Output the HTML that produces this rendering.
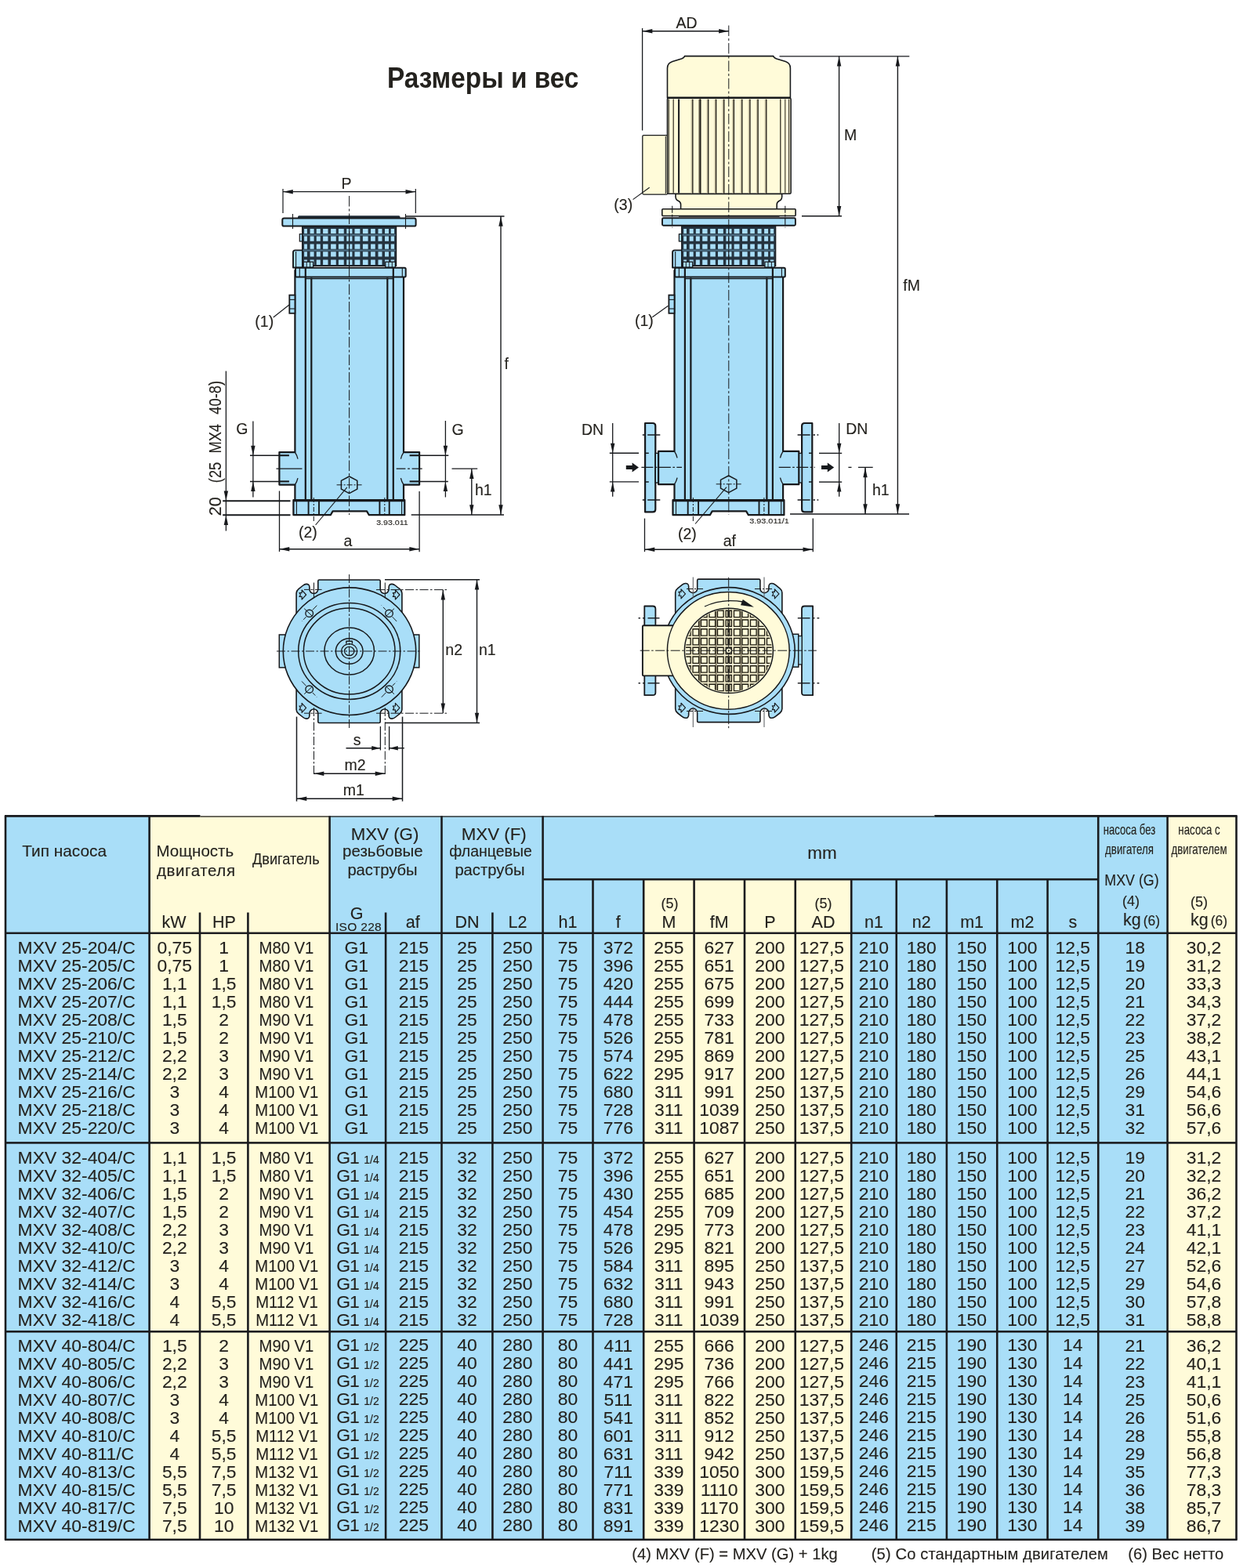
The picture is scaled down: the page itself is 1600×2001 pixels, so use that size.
<!DOCTYPE html>
<html lang="ru">
<head>
<meta charset="utf-8">
<title>Размеры и вес</title>
<style>
html,body{margin:0;padding:0;background:#fff;}
body{width:1600px;height:2001px;overflow:hidden;position:relative;font-family:"Liberation Sans",sans-serif;color:#24221e;}
.page{will-change:transform;position:absolute;left:0;top:0;width:1600px;height:2001px;overflow:hidden;background:#fff;}
h1.title{position:absolute;margin:0;left:494.2px;top:78.6px;font-size:36.6px;line-height:normal;font-weight:bold;white-space:nowrap;transform:scaleX(0.912);transform-origin:0 50%;}
.tbl{position:absolute;left:0;top:0;width:1600px;height:2001px;}
.bg{position:absolute;}
.bg.b{background:#a9def8;}
.bg.c{background:#fffbd9;}
.ln{position:absolute;background:#24221e;}
.hl{position:absolute;white-space:nowrap;line-height:normal;-webkit-text-stroke:0.12px #24221e;}
.hl small{font-size:17.5px;margin-left:3px;line-height:0;}
table.dt{-webkit-text-stroke:0.12px #24221e;position:absolute;left:7.0px;border-collapse:collapse;table-layout:fixed;width:1570.5px;font-size:22.9px;}
table.dt td{padding:0;height:23px;line-height:23px;text-align:center;white-space:nowrap;overflow:visible;}
table.dt td.type{text-align:left;padding-left:15.6px;}
table.dt td.mot span{display:inline-block;transform:scaleX(0.885);position:relative;left:-3px;}
table.dt td.AD{padding-right:4px;}
table.dt td.kg1{padding-left:6px;}
table.dt td.kg2{padding-left:5px;}
table.dt td.up{position:relative;top:-1px;}
table.dt td small{font-size:14px;line-height:0;margin-left:5.5px;}
table.dt td i{font-style:normal;margin-left:-1px;}
table.dt td.g{text-align:left;padding-left:8.6px;}
table.dt.g1 td.g{text-align:center;padding-left:0;padding-right:3px;}
.notes{-webkit-text-stroke:0.1px #24221e;position:absolute;margin:0;left:0;top:1971.5px;width:1600px;height:26px;font-size:20.2px;line-height:normal;white-space:nowrap;}
.notes span{position:absolute;top:0;}
svg.dr,svg.grid{position:absolute;left:0;top:0;}
svg.dr text{font-family:"Liberation Sans",sans-serif;fill:#24221e;stroke:#24221e;stroke-width:0.12px;}
</style>
</head>
<body>
<div class="page">
<h1 class="title">Размеры и вес</h1>
<svg class="dr" width="1600" height="1040" viewBox="0 0 1600 1040">
<g id="d1">
<rect x="380" y="275.2" width="130.5" height="3.8" rx="1.5" fill="#1e2a35"/>
<path d="M376.4 345 V577.1 H356.4 V618.6 H376.4 V638 H515 V618.6 H535.1 V577.1 H515 V345 Z" fill="#a9def8" stroke="#17191c" stroke-width="2.2" stroke-linejoin="round" />
<line x1="356.4" y1="581.2" x2="368.9" y2="581.2" stroke="#17191c" stroke-width="2.1"/>
<line x1="356.4" y1="614.4" x2="368.9" y2="614.4" stroke="#17191c" stroke-width="2.1"/>
<line x1="535.1" y1="581.2" x2="522.6" y2="581.2" stroke="#17191c" stroke-width="2.1"/>
<line x1="535.1" y1="614.4" x2="522.6" y2="614.4" stroke="#17191c" stroke-width="2.1"/>
<path d="M376.4 577.1 q2.6 4 3.6 8.5" fill="none" stroke="#17191c" stroke-width="1.3" stroke-linejoin="round" />
<path d="M376.4 618.6 q2.6 -4 3.6 -8.5" fill="none" stroke="#17191c" stroke-width="1.3" stroke-linejoin="round" />
<path d="M515 577.1 q-2.6 4 -3.6 8.5" fill="none" stroke="#17191c" stroke-width="1.3" stroke-linejoin="round" />
<path d="M515 618.6 q-2.6 -4 -3.6 -8.5" fill="none" stroke="#17191c" stroke-width="1.3" stroke-linejoin="round" />
<path d="M374 341.5 V322 q0 -2.6 2.6 -2.6 H386 V341.5 Z" fill="#a9def8" stroke="#17191c" stroke-width="1.9" stroke-linejoin="round" />
<line x1="377.6" y1="321" x2="377.6" y2="341" stroke="#17191c" stroke-width="1.1"/>
<rect x="385.6" y="288.7" width="120" height="50.7" fill="#25333f" stroke="#17191c" stroke-width="1.2"/>
<path d="M388.1 291.9H391.9V298.1H388.1ZM388.1 301.5H391.9V307.75H388.1ZM388.1 311.5H391.9V317.75H388.1ZM388.1 321.25H391.9V327.5H388.1ZM388.1 331.5H391.9V338.1H388.1ZM395.6 291.9H400.6V298.1H395.6ZM395.6 301.5H400.6V307.75H395.6ZM395.6 311.5H400.6V317.75H395.6ZM395.6 321.25H400.6V327.5H395.6ZM395.6 331.5H400.6V338.1H395.6ZM403.75 291.9H408.75V298.1H403.75ZM403.75 301.5H408.75V307.75H403.75ZM403.75 311.5H408.75V317.75H403.75ZM403.75 321.25H408.75V327.5H403.75ZM403.75 331.5H408.75V338.1H403.75ZM412.1 291.9H418.5V298.1H412.1ZM412.1 301.5H418.5V307.75H412.1ZM412.1 311.5H418.5V317.75H412.1ZM412.1 321.25H418.5V327.5H412.1ZM412.1 331.5H418.5V338.1H412.1ZM422.1 291.9H428.75V298.1H422.1ZM422.1 301.5H428.75V307.75H422.1ZM422.1 311.5H428.75V317.75H422.1ZM422.1 321.25H428.75V327.5H422.1ZM422.1 331.5H428.75V338.1H422.1ZM431.9 291.9H438.75V298.1H431.9ZM431.9 301.5H438.75V307.75H431.9ZM431.9 311.5H438.75V317.75H431.9ZM431.9 321.25H438.75V327.5H431.9ZM431.9 331.5H438.75V338.1H431.9ZM442.25 291.9H444.9V298.1H442.25ZM442.25 301.5H444.9V307.75H442.25ZM442.25 311.5H444.9V317.75H442.25ZM442.25 321.25H444.9V327.5H442.25ZM442.25 331.5H444.9V338.1H442.25ZM446.3 291.9H449.4V298.1H446.3ZM446.3 301.5H449.4V307.75H446.3ZM446.3 311.5H449.4V317.75H446.3ZM446.3 321.25H449.4V327.5H446.3ZM446.3 331.5H449.4V338.1H446.3ZM452.5 291.9H459.4V298.1H452.5ZM452.5 301.5H459.4V307.75H452.5ZM452.5 311.5H459.4V317.75H452.5ZM452.5 321.25H459.4V327.5H452.5ZM452.5 331.5H459.4V338.1H452.5ZM462.9 291.9H469.6V298.1H462.9ZM462.9 301.5H469.6V307.75H462.9ZM462.9 311.5H469.6V317.75H462.9ZM462.9 321.25H469.6V327.5H462.9ZM462.9 331.5H469.6V338.1H462.9ZM473.1 291.9H478.75V298.1H473.1ZM473.1 301.5H478.75V307.75H473.1ZM473.1 311.5H478.75V317.75H473.1ZM473.1 321.25H478.75V327.5H473.1ZM473.1 331.5H478.75V338.1H473.1ZM482.5 291.9H487.5V298.1H482.5ZM482.5 301.5H487.5V307.75H482.5ZM482.5 311.5H487.5V317.75H482.5ZM482.5 321.25H487.5V327.5H482.5ZM482.5 331.5H487.5V338.1H482.5ZM491 291.9H496V298.1H491ZM491 301.5H496V307.75H491ZM491 311.5H496V317.75H491ZM491 321.25H496V327.5H491ZM491 331.5H496V338.1H491ZM498.75 291.9H503.1V298.1H498.75ZM498.75 301.5H503.1V307.75H498.75ZM498.75 311.5H503.1V317.75H498.75ZM498.75 321.25H503.1V327.5H498.75ZM498.75 331.5H503.1V338.1H498.75Z" fill="#a9def8"/>
<line x1="386.6" y1="299.8" x2="504.6" y2="299.8" stroke="#4f7288" stroke-width="2.0"/>
<line x1="386.6" y1="319.5" x2="504.6" y2="319.5" stroke="#4f7288" stroke-width="2.0"/>
<rect x="382.3" y="298.7" width="3.3" height="9.3" fill="#a9def8" stroke="#17191c" stroke-width="1.2"/>
<rect x="387.2" y="334.2" width="12.4" height="7" fill="#a9def8" stroke="#17191c" stroke-width="1.3"/>
<line x1="391.2" y1="334.2" x2="391.2" y2="341.2" stroke="#17191c" stroke-width="1.0"/>
<line x1="395.6" y1="334.2" x2="395.6" y2="341.2" stroke="#17191c" stroke-width="1.0"/>
<rect x="491.8" y="334.2" width="12.6" height="7" fill="#a9def8" stroke="#17191c" stroke-width="1.3"/>
<line x1="495.9" y1="334.2" x2="495.9" y2="341.2" stroke="#17191c" stroke-width="1.0"/>
<line x1="500.3" y1="334.2" x2="500.3" y2="341.2" stroke="#17191c" stroke-width="1.0"/>
<rect x="377" y="341.8" width="140.7" height="11.7" rx="1.5" fill="#a9def8" stroke="#17191c" stroke-width="2.0"/>
<line x1="382.3" y1="342" x2="382.3" y2="353" stroke="#17191c" stroke-width="1.1"/>
<line x1="513.3" y1="342" x2="513.3" y2="353" stroke="#17191c" stroke-width="1.1"/>
<line x1="389.8" y1="341.5" x2="389.8" y2="638" stroke="#17191c" stroke-width="2.2"/>
<line x1="397.3" y1="354.5" x2="397.3" y2="638" stroke="#17191c" stroke-width="2.2"/>
<line x1="494.3" y1="354.5" x2="494.3" y2="638" stroke="#17191c" stroke-width="2.2"/>
<line x1="501.8" y1="341.5" x2="501.8" y2="638" stroke="#17191c" stroke-width="2.2"/>
<line x1="389.4" y1="355.6" x2="502" y2="355.6" stroke="#17191c" stroke-width="1.2"/>
<rect x="369.3" y="376.6" width="7.1" height="23.2" fill="#a9def8" stroke="#17191c" stroke-width="1.8"/>
<line x1="369" y1="382.4" x2="376.4" y2="382.4" stroke="#17191c" stroke-width="1.1"/>
<line x1="369" y1="394" x2="376.4" y2="394" stroke="#17191c" stroke-width="1.1"/>
<path d="M374.4 638.2 H516.3 V657.2 H470.8 L468 652.4 H424.6 L421.8 657.2 H374.4 Z" fill="#a9def8" stroke="#17191c" stroke-width="2.2" stroke-linejoin="round" />
<line x1="374.4" y1="639.6" x2="516.3" y2="639.6" stroke="#17191c" stroke-width="1.4"/>
<line x1="378.4" y1="639" x2="378.4" y2="657" stroke="#17191c" stroke-width="1.1"/>
<line x1="393.6" y1="639" x2="393.6" y2="657" stroke="#17191c" stroke-width="1.9"/>
<line x1="407" y1="639" x2="407" y2="657" stroke="#17191c" stroke-width="1.9"/>
<line x1="484.4" y1="639" x2="484.4" y2="657" stroke="#17191c" stroke-width="1.9"/>
<line x1="496.7" y1="639" x2="496.7" y2="657" stroke="#17191c" stroke-width="1.9"/>
<line x1="512.6" y1="639" x2="512.6" y2="657" stroke="#17191c" stroke-width="1.1"/>
<polygon points="445.6,608 455.79,613.4 455.79,624.2 445.6,629.6 435.41,624.2 435.41,613.4" fill="#a9def8" stroke="#17191c" stroke-width="1.5" stroke-linejoin="round"/>
<line x1="429.6" y1="618.8" x2="461.6" y2="618.8" stroke="#17191c" stroke-width="1.0" stroke-dasharray="7 2 2 2"/>
<line x1="400.3" y1="635" x2="400.3" y2="665" stroke="#17191c" stroke-width="1.0" stroke-dasharray="6 2 2 2"/>
<line x1="490.8" y1="635" x2="490.8" y2="659" stroke="#17191c" stroke-width="1.0" stroke-dasharray="6 2 2 2"/>
<rect x="360.3" y="278.6" width="170.3" height="10" rx="2.2" fill="#a9def8" stroke="#17191c" stroke-width="2.0"/>
<line x1="445.6" y1="250" x2="445.6" y2="657" stroke="#17191c" stroke-width="1.0" stroke-dasharray="13.5 3 3 3"/>
<line x1="361" y1="241" x2="361" y2="272" stroke="#17191c" stroke-width="1.2"/>
<line x1="530.3" y1="241" x2="530.3" y2="272" stroke="#17191c" stroke-width="1.2"/>
<line x1="361" y1="244.7" x2="530.3" y2="244.7" stroke="#17191c" stroke-width="1.3"/>
<polygon points="361.3,244.7 373.8,242 373.8,247.4" fill="#17191c"/>
<polygon points="530,244.7 517.5,242 517.5,247.4" fill="#17191c"/>
<text x="442" y="241" font-size="19.5" text-anchor="middle">P</text>
<line x1="373.5" y1="273" x2="373.5" y2="292" stroke="#17191c" stroke-width="1.1"/>
<line x1="517.5" y1="273" x2="517.5" y2="292" stroke="#17191c" stroke-width="1.1"/>
<line x1="517.5" y1="276" x2="643.5" y2="276" stroke="#17191c" stroke-width="1.3"/>
<line x1="639" y1="276" x2="639" y2="657" stroke="#17191c" stroke-width="1.4"/>
<polygon points="639,276.3 636.3,288.8 641.7,288.8" fill="#17191c"/>
<polygon points="639,656.7 636.3,644.2 641.7,644.2" fill="#17191c"/>
<text x="643.5" y="471.3" font-size="19.5" text-anchor="start">f</text>
<line x1="524.7" y1="657" x2="643" y2="657" stroke="#17191c" stroke-width="1.5"/>
<line x1="576.5" y1="598.1" x2="609.2" y2="598.1" stroke="#17191c" stroke-width="1.3"/>
<line x1="601.8" y1="598.1" x2="601.8" y2="657" stroke="#17191c" stroke-width="1.4"/>
<polygon points="601.8,598.4 599.1,610.9 604.5,610.9" fill="#17191c"/>
<polygon points="601.8,656.7 599.1,644.2 604.5,644.2" fill="#17191c"/>
<text x="606" y="632.2" font-size="19.5" text-anchor="start">h1</text>
<line x1="568.4" y1="537" x2="568.4" y2="634.5" stroke="#17191c" stroke-width="1.3"/>
<polygon points="568.4,581.2 565.7,568.7 571.1,568.7" fill="#17191c"/>
<polygon points="568.4,614.5 565.7,627 571.1,627" fill="#17191c"/>
<line x1="535" y1="581.2" x2="572.3" y2="581.2" stroke="#17191c" stroke-width="1.4"/>
<line x1="535" y1="614.5" x2="571.8" y2="614.5" stroke="#17191c" stroke-width="1.4"/>
<text x="576.5" y="554.6" font-size="19.5" text-anchor="start">G</text>
<line x1="505.7" y1="598.1" x2="538.7" y2="598.1" stroke="#17191c" stroke-width="1.2" stroke-dasharray="11.7 2.7 2.8 2.7 13.1"/>
<line x1="322.9" y1="537.5" x2="322.9" y2="634.6" stroke="#17191c" stroke-width="1.3"/>
<polygon points="322.9,581.2 320.2,568.7 325.6,568.7" fill="#17191c"/>
<polygon points="322.9,614.5 320.2,627 325.6,627" fill="#17191c"/>
<line x1="319" y1="581.2" x2="356.5" y2="581.2" stroke="#17191c" stroke-width="1.4"/>
<line x1="319" y1="614.5" x2="356.5" y2="614.5" stroke="#17191c" stroke-width="1.4"/>
<text x="301.3" y="554.2" font-size="19.5" text-anchor="start">G</text>
<line x1="352.5" y1="598.1" x2="385.5" y2="598.1" stroke="#17191c" stroke-width="1.2"/>
<line x1="288.4" y1="473.5" x2="288.4" y2="677.5" stroke="#17191c" stroke-width="1.3"/>
<polygon points="288.4,639 285.7,626.5 291.1,626.5" fill="#17191c"/>
<polygon points="288.4,657.4 285.7,669.9 291.1,669.9" fill="#17191c"/>
<line x1="284.2" y1="639.2" x2="370.5" y2="639.2" stroke="#17191c" stroke-width="1.9"/>
<line x1="284.2" y1="657.3" x2="370.5" y2="657.3" stroke="#17191c" stroke-width="1.9"/>
<text transform="translate(282 658.2) rotate(-90)" font-size="21.5">20</text>
<text transform="translate(282 616.2) rotate(-90) scale(0.85 1)" font-size="21.5" xml:space="preserve"><tspan x="0">(25 </tspan><tspan x="44.3">MX4 </tspan><tspan x="103">40-8)</tspan></text>
<line x1="356.5" y1="626.5" x2="356.5" y2="704" stroke="#17191c" stroke-width="1.3"/>
<line x1="535.1" y1="627" x2="535.1" y2="704.2" stroke="#17191c" stroke-width="1.3"/>
<line x1="356.5" y1="700.8" x2="535.1" y2="700.8" stroke="#17191c" stroke-width="1.4"/>
<polygon points="356.8,700.8 369.3,698.1 369.3,703.5" fill="#17191c"/>
<polygon points="534.8,700.8 522.3,698.1 522.3,703.5" fill="#17191c"/>
<text x="444" y="696.8" font-size="19.5" text-anchor="middle">a</text>
<text x="325.3" y="417" font-size="19.5" text-anchor="start">(1)</text>
<line x1="348.7" y1="405" x2="369" y2="389" stroke="#17191c" stroke-width="1.1"/>
<text x="381" y="686.2" font-size="19.5" text-anchor="start">(2)</text>
<line x1="442.8" y1="621.9" x2="402.6" y2="670" stroke="#17191c" stroke-width="1.1"/>
<text x="480.2" y="670" font-size="9.6" text-anchor="start" fill="#3a3a3a" textLength="40.6" lengthAdjust="spacingAndGlyphs">3.93.011</text>
</g>
<g id="d2">
<path d="M823.1 540 H832.8 Q836.3 540 836.3 543.5 V649.9 Q836.3 653.4 832.8 653.4 H823.1 Z" fill="#a9def8" stroke="#17191c" stroke-width="2.2" stroke-linejoin="round" />
<rect x="836.3" y="578.4" width="3.8" height="37.6" fill="#a9def8" stroke="#17191c" stroke-width="1.4"/>
<path d="M1036.3 540 H1026.6 Q1023.1 540 1023.1 543.5 V649.9 Q1023.1 653.4 1026.6 653.4 H1036.3 Z" fill="#a9def8" stroke="#17191c" stroke-width="2.2" stroke-linejoin="round" />
<rect x="1019.3" y="578.4" width="3.8" height="37.6" fill="#a9def8" stroke="#17191c" stroke-width="1.4"/>
<path d="M860.5 345 V575.8 H840.1 V618.2 H860.5 V638 H999.1 V618.2 H1019.3 V575.8 H999.1 V345 Z" fill="#a9def8" stroke="#17191c" stroke-width="2.2" stroke-linejoin="round" />
<path d="M860.5 575.8 q2.6 4 3.6 8.5" fill="none" stroke="#17191c" stroke-width="1.3" stroke-linejoin="round" />
<path d="M860.5 618.2 q2.6 -4 3.6 -8.5" fill="none" stroke="#17191c" stroke-width="1.3" stroke-linejoin="round" />
<path d="M999.1 575.8 q-2.6 4 -3.6 8.5" fill="none" stroke="#17191c" stroke-width="1.3" stroke-linejoin="round" />
<path d="M999.1 618.2 q-2.6 -4 -3.6 -8.5" fill="none" stroke="#17191c" stroke-width="1.3" stroke-linejoin="round" />
<path d="M858.1 341.5 V322 q0 -2.6 2.6 -2.6 H870.1 V341.5 Z" fill="#a9def8" stroke="#17191c" stroke-width="1.9" stroke-linejoin="round" />
<line x1="861.7" y1="321" x2="861.7" y2="341" stroke="#17191c" stroke-width="1.1"/>
<rect x="869.7" y="288.7" width="120" height="50.7" fill="#25333f" stroke="#17191c" stroke-width="1.2"/>
<path d="M872.2 291.9H876V298.1H872.2ZM872.2 301.5H876V307.75H872.2ZM872.2 311.5H876V317.75H872.2ZM872.2 321.25H876V327.5H872.2ZM872.2 331.5H876V338.1H872.2ZM879.7 291.9H884.7V298.1H879.7ZM879.7 301.5H884.7V307.75H879.7ZM879.7 311.5H884.7V317.75H879.7ZM879.7 321.25H884.7V327.5H879.7ZM879.7 331.5H884.7V338.1H879.7ZM887.85 291.9H892.85V298.1H887.85ZM887.85 301.5H892.85V307.75H887.85ZM887.85 311.5H892.85V317.75H887.85ZM887.85 321.25H892.85V327.5H887.85ZM887.85 331.5H892.85V338.1H887.85ZM896.2 291.9H902.6V298.1H896.2ZM896.2 301.5H902.6V307.75H896.2ZM896.2 311.5H902.6V317.75H896.2ZM896.2 321.25H902.6V327.5H896.2ZM896.2 331.5H902.6V338.1H896.2ZM906.2 291.9H912.85V298.1H906.2ZM906.2 301.5H912.85V307.75H906.2ZM906.2 311.5H912.85V317.75H906.2ZM906.2 321.25H912.85V327.5H906.2ZM906.2 331.5H912.85V338.1H906.2ZM916 291.9H922.85V298.1H916ZM916 301.5H922.85V307.75H916ZM916 311.5H922.85V317.75H916ZM916 321.25H922.85V327.5H916ZM916 331.5H922.85V338.1H916ZM926.35 291.9H929V298.1H926.35ZM926.35 301.5H929V307.75H926.35ZM926.35 311.5H929V317.75H926.35ZM926.35 321.25H929V327.5H926.35ZM926.35 331.5H929V338.1H926.35ZM930.4 291.9H933.5V298.1H930.4ZM930.4 301.5H933.5V307.75H930.4ZM930.4 311.5H933.5V317.75H930.4ZM930.4 321.25H933.5V327.5H930.4ZM930.4 331.5H933.5V338.1H930.4ZM936.6 291.9H943.5V298.1H936.6ZM936.6 301.5H943.5V307.75H936.6ZM936.6 311.5H943.5V317.75H936.6ZM936.6 321.25H943.5V327.5H936.6ZM936.6 331.5H943.5V338.1H936.6ZM947 291.9H953.7V298.1H947ZM947 301.5H953.7V307.75H947ZM947 311.5H953.7V317.75H947ZM947 321.25H953.7V327.5H947ZM947 331.5H953.7V338.1H947ZM957.2 291.9H962.85V298.1H957.2ZM957.2 301.5H962.85V307.75H957.2ZM957.2 311.5H962.85V317.75H957.2ZM957.2 321.25H962.85V327.5H957.2ZM957.2 331.5H962.85V338.1H957.2ZM966.6 291.9H971.6V298.1H966.6ZM966.6 301.5H971.6V307.75H966.6ZM966.6 311.5H971.6V317.75H966.6ZM966.6 321.25H971.6V327.5H966.6ZM966.6 331.5H971.6V338.1H966.6ZM975.1 291.9H980.1V298.1H975.1ZM975.1 301.5H980.1V307.75H975.1ZM975.1 311.5H980.1V317.75H975.1ZM975.1 321.25H980.1V327.5H975.1ZM975.1 331.5H980.1V338.1H975.1ZM982.85 291.9H987.2V298.1H982.85ZM982.85 301.5H987.2V307.75H982.85ZM982.85 311.5H987.2V317.75H982.85ZM982.85 321.25H987.2V327.5H982.85ZM982.85 331.5H987.2V338.1H982.85Z" fill="#a9def8"/>
<line x1="870.7" y1="299.8" x2="988.7" y2="299.8" stroke="#4f7288" stroke-width="2.0"/>
<line x1="870.7" y1="319.5" x2="988.7" y2="319.5" stroke="#4f7288" stroke-width="2.0"/>
<rect x="866.4" y="298.7" width="3.3" height="9.3" fill="#a9def8" stroke="#17191c" stroke-width="1.2"/>
<rect x="871.3" y="334.2" width="12.4" height="7" fill="#a9def8" stroke="#17191c" stroke-width="1.3"/>
<line x1="875.3" y1="334.2" x2="875.3" y2="341.2" stroke="#17191c" stroke-width="1.0"/>
<line x1="879.7" y1="334.2" x2="879.7" y2="341.2" stroke="#17191c" stroke-width="1.0"/>
<rect x="975.9" y="334.2" width="12.6" height="7" fill="#a9def8" stroke="#17191c" stroke-width="1.3"/>
<line x1="980" y1="334.2" x2="980" y2="341.2" stroke="#17191c" stroke-width="1.0"/>
<line x1="984.4" y1="334.2" x2="984.4" y2="341.2" stroke="#17191c" stroke-width="1.0"/>
<rect x="861.1" y="341.8" width="140.7" height="11.7" rx="1.5" fill="#a9def8" stroke="#17191c" stroke-width="2.0"/>
<line x1="866.4" y1="342" x2="866.4" y2="353" stroke="#17191c" stroke-width="1.1"/>
<line x1="997.4" y1="342" x2="997.4" y2="353" stroke="#17191c" stroke-width="1.1"/>
<line x1="873.9" y1="341.5" x2="873.9" y2="638" stroke="#17191c" stroke-width="2.2"/>
<line x1="881.4" y1="354.5" x2="881.4" y2="638" stroke="#17191c" stroke-width="2.2"/>
<line x1="978.4" y1="354.5" x2="978.4" y2="638" stroke="#17191c" stroke-width="2.2"/>
<line x1="985.9" y1="341.5" x2="985.9" y2="638" stroke="#17191c" stroke-width="2.2"/>
<line x1="873.5" y1="355.6" x2="986.1" y2="355.6" stroke="#17191c" stroke-width="1.2"/>
<rect x="853.4" y="376.6" width="7.1" height="23.2" fill="#a9def8" stroke="#17191c" stroke-width="1.8"/>
<line x1="853.1" y1="382.4" x2="860.5" y2="382.4" stroke="#17191c" stroke-width="1.1"/>
<line x1="853.1" y1="394" x2="860.5" y2="394" stroke="#17191c" stroke-width="1.1"/>
<path d="M858.5 638.2 H1000.4 V657.2 H954.9 L952.1 652.4 H908.7 L905.9 657.2 H858.5 Z" fill="#a9def8" stroke="#17191c" stroke-width="2.2" stroke-linejoin="round" />
<line x1="858.5" y1="639.6" x2="1000.4" y2="639.6" stroke="#17191c" stroke-width="1.4"/>
<line x1="862.5" y1="639" x2="862.5" y2="657" stroke="#17191c" stroke-width="1.1"/>
<line x1="877.7" y1="639" x2="877.7" y2="657" stroke="#17191c" stroke-width="1.9"/>
<line x1="891.1" y1="639" x2="891.1" y2="657" stroke="#17191c" stroke-width="1.9"/>
<line x1="968.5" y1="639" x2="968.5" y2="657" stroke="#17191c" stroke-width="1.9"/>
<line x1="980.8" y1="639" x2="980.8" y2="657" stroke="#17191c" stroke-width="1.9"/>
<line x1="996.7" y1="639" x2="996.7" y2="657" stroke="#17191c" stroke-width="1.1"/>
<polygon points="929.7,607 939.89,612.4 939.89,623.2 929.7,628.6 919.51,623.2 919.51,612.4" fill="#a9def8" stroke="#17191c" stroke-width="1.5" stroke-linejoin="round"/>
<line x1="913.7" y1="617.8" x2="945.7" y2="617.8" stroke="#17191c" stroke-width="1.0" stroke-dasharray="7 2 2 2"/>
<line x1="884.4" y1="635" x2="884.4" y2="665" stroke="#17191c" stroke-width="1.0" stroke-dasharray="6 2 2 2"/>
<line x1="974.9" y1="635" x2="974.9" y2="659" stroke="#17191c" stroke-width="1.0" stroke-dasharray="6 2 2 2"/>
<rect x="845" y="278.3" width="169.9" height="9.4" rx="1.5" fill="#a9def8" stroke="#17191c" stroke-width="1.9"/>
<rect x="866" y="275.6" width="128.5" height="2.6" fill="#555"/>
<path d="M862 247.4 H997.7 V251 Q997.7 255 994 256.5 Q991.2 258 991.2 261 V266.8 H868.6 V261 Q868.6 258 865.8 256.5 Q862 255 862 251 Z" fill="#fffbd9" stroke="#17191c" stroke-width="1.6" stroke-linejoin="round" />
<rect x="844.8" y="266.8" width="170.3" height="8.7" rx="1" fill="#fffbd9" stroke="#17191c" stroke-width="1.6"/>
<rect x="819.8" y="172.6" width="32.2" height="75.5" rx="1.5" fill="#fffbd9" stroke="#17191c" stroke-width="1.3"/>
<line x1="849.3" y1="174" x2="849.3" y2="247" stroke="#17191c" stroke-width="1.0"/>
<rect x="851.5" y="125.2" width="157.6" height="122.1" rx="1.5" fill="#fffbd9" stroke="#17191c" stroke-width="1.6"/>
<line x1="853.3" y1="126.5" x2="853.3" y2="246.5" stroke="#2f2c22" stroke-width="1.2"/>
<line x1="859.2" y1="126.5" x2="859.2" y2="246.5" stroke="#2f2c22" stroke-width="1.2"/>
<line x1="866.1" y1="126.5" x2="866.1" y2="246.5" stroke="#17191c" stroke-width="2.0"/>
<line x1="995.8" y1="126.5" x2="995.8" y2="246.5" stroke="#2f2c22" stroke-width="1.3"/>
<line x1="1001.8" y1="126.5" x2="1001.8" y2="246.5" stroke="#2f2c22" stroke-width="1.1"/>
<line x1="1006.6" y1="126.5" x2="1006.6" y2="246.5" stroke="#2f2c22" stroke-width="1.1"/>
<rect x="881.6" y="126.6" width="2.2" height="120" rx="1" fill="#c9c2a3"/>
<line x1="883.85" y1="127.2" x2="883.85" y2="246.2" stroke="#24211a" stroke-width="1.35" stroke-linecap="round"/>
<rect x="891.4" y="126.6" width="2.2" height="120" rx="1" fill="#6f6957"/>
<line x1="893.65" y1="127.2" x2="893.65" y2="246.2" stroke="#24211a" stroke-width="1.8" stroke-linecap="round"/>
<rect x="901.5" y="126.6" width="2.2" height="120" rx="1" fill="#c9c2a3"/>
<line x1="903.75" y1="127.2" x2="903.75" y2="246.2" stroke="#24211a" stroke-width="1.35" stroke-linecap="round"/>
<rect x="911.4" y="126.6" width="2.2" height="120" rx="1" fill="#c9c2a3"/>
<line x1="913.65" y1="127.2" x2="913.65" y2="246.2" stroke="#24211a" stroke-width="1.35" stroke-linecap="round"/>
<rect x="921.55" y="126.6" width="2.2" height="120" rx="1" fill="#c9c2a3"/>
<line x1="923.8" y1="127.2" x2="923.8" y2="246.2" stroke="#24211a" stroke-width="1.35" stroke-linecap="round"/>
<rect x="934.15" y="126.6" width="2.2" height="120" rx="1" fill="#c9c2a3"/>
<line x1="936.4" y1="127.2" x2="936.4" y2="246.2" stroke="#24211a" stroke-width="1.35" stroke-linecap="round"/>
<rect x="944.6" y="126.6" width="2.2" height="120" rx="1" fill="#c9c2a3"/>
<line x1="946.85" y1="127.2" x2="946.85" y2="246.2" stroke="#24211a" stroke-width="1.35" stroke-linecap="round"/>
<rect x="954.7" y="126.6" width="2.2" height="120" rx="1" fill="#c9c2a3"/>
<line x1="956.95" y1="127.2" x2="956.95" y2="246.2" stroke="#24211a" stroke-width="1.35" stroke-linecap="round"/>
<rect x="964.9" y="126.6" width="2.2" height="120" rx="1" fill="#c9c2a3"/>
<line x1="967.15" y1="127.2" x2="967.15" y2="246.2" stroke="#24211a" stroke-width="1.35" stroke-linecap="round"/>
<rect x="975.55" y="126.6" width="2.2" height="120" rx="1" fill="#c9c2a3"/>
<line x1="977.8" y1="127.2" x2="977.8" y2="246.2" stroke="#24211a" stroke-width="1.35" stroke-linecap="round"/>
<path d="M851.5 125 V87 Q851.5 80.5 858 78.5 L869.5 75 Q873 73.8 873.5 71.6 H986.8 Q987.3 73.8 990.8 75 L1002.3 78.5 Q1008.4 80.5 1008.4 87 V125 Z" fill="#fffbd9" stroke="#17191c" stroke-width="1.6" stroke-linejoin="round" />
<line x1="851.5" y1="124.7" x2="1009" y2="124.7" stroke="#17191c" stroke-width="2.4"/>
<line x1="857.7" y1="262.7" x2="857.7" y2="290.4" stroke="#17191c" stroke-width="1.1" stroke-dasharray="9 2 3 2"/>
<line x1="1001.8" y1="262.7" x2="1001.8" y2="290.4" stroke="#17191c" stroke-width="1.1" stroke-dasharray="9 2 3 2"/>
<line x1="929.8" y1="32.5" x2="929.8" y2="657" stroke="#17191c" stroke-width="1.0" stroke-dasharray="13.5 3 3 3"/>
<line x1="819.6" y1="36" x2="819.6" y2="166.5" stroke="#17191c" stroke-width="1.3"/>
<line x1="819.6" y1="39.7" x2="930" y2="39.7" stroke="#17191c" stroke-width="1.4"/>
<polygon points="819.9,39.7 832.4,37 832.4,42.4" fill="#17191c"/>
<polygon points="929.6,39.7 917.1,37 917.1,42.4" fill="#17191c"/>
<text x="862.5" y="36.2" font-size="19.5" text-anchor="start">AD</text>
<line x1="994.5" y1="71.8" x2="1160.3" y2="71.8" stroke="#17191c" stroke-width="1.3"/>
<line x1="1023" y1="275.7" x2="1074" y2="275.7" stroke="#17191c" stroke-width="1.4"/>
<line x1="1070.6" y1="71.8" x2="1070.6" y2="275.7" stroke="#17191c" stroke-width="1.4"/>
<polygon points="1070.6,72.1 1067.9,84.6 1073.3,84.6" fill="#17191c"/>
<polygon points="1070.6,275.4 1067.9,262.9 1073.3,262.9" fill="#17191c"/>
<text x="1077" y="178.7" font-size="19.5" text-anchor="start">M</text>
<line x1="1145.4" y1="71.8" x2="1145.4" y2="656" stroke="#17191c" stroke-width="1.4"/>
<polygon points="1145.4,72.1 1142.7,84.6 1148.1,84.6" fill="#17191c"/>
<polygon points="1145.4,655.8 1142.7,643.3 1148.1,643.3" fill="#17191c"/>
<text x="1152.3" y="371.3" font-size="19.5" text-anchor="start">fM</text>
<line x1="1008" y1="656.1" x2="1160" y2="656.1" stroke="#17191c" stroke-width="1.5"/>
<line x1="1082.4" y1="596.4" x2="1086.5" y2="596.4" stroke="#17191c" stroke-width="1.3"/>
<line x1="1095" y1="596.4" x2="1113.7" y2="596.4" stroke="#17191c" stroke-width="1.3"/>
<line x1="1104" y1="596.4" x2="1104" y2="656" stroke="#17191c" stroke-width="1.5"/>
<polygon points="1104,596.7 1101.3,609.2 1106.7,609.2" fill="#17191c"/>
<polygon points="1104,655.8 1101.3,643.3 1106.7,643.3" fill="#17191c"/>
<text x="1113" y="631.6" font-size="19.5" text-anchor="start">h1</text>
<line x1="1070.7" y1="540" x2="1070.7" y2="633.8" stroke="#17191c" stroke-width="1.3"/>
<polygon points="1070.7,578.3 1068,565.8 1073.4,565.8" fill="#17191c"/>
<polygon points="1070.7,615.1 1068,627.6 1073.4,627.6" fill="#17191c"/>
<line x1="1045" y1="578.4" x2="1074.2" y2="578.4" stroke="#17191c" stroke-width="1.4"/>
<line x1="1045" y1="615.1" x2="1074.2" y2="615.1" stroke="#17191c" stroke-width="1.4"/>
<text x="1079.2" y="554.2" font-size="19.5" text-anchor="start">DN</text>
<line x1="781.7" y1="540" x2="781.7" y2="633.8" stroke="#17191c" stroke-width="1.3"/>
<polygon points="781.7,578.2 779,565.7 784.4,565.7" fill="#17191c"/>
<polygon points="781.7,614.9 779,627.4 784.4,627.4" fill="#17191c"/>
<line x1="777.8" y1="578.2" x2="815" y2="578.2" stroke="#17191c" stroke-width="1.4"/>
<line x1="777.8" y1="614.9" x2="815" y2="614.9" stroke="#17191c" stroke-width="1.4"/>
<text x="742" y="555" font-size="19.5" text-anchor="start">DN</text>
<path d="M798.8 594 H806.6 V590.4 L815 596.5 L806.6 602.6 V599 H798.8 Z" fill="#17191c"/>
<path d="M1048 594 H1055.8 V590.4 L1064.2 596.5 L1055.8 602.6 V599 H1048 Z" fill="#17191c"/>
<line x1="819.8" y1="555" x2="822.3" y2="555" stroke="#17191c" stroke-width="1.5"/>
<line x1="826.2" y1="555" x2="842.3" y2="555" stroke="#17191c" stroke-width="1.5"/>
<line x1="1017.6" y1="555" x2="1033.6" y2="555" stroke="#17191c" stroke-width="1.5"/>
<line x1="1037.5" y1="555" x2="1040" y2="555" stroke="#17191c" stroke-width="1.5"/>
<line x1="1042.5" y1="555" x2="1044.3" y2="555" stroke="#17191c" stroke-width="1.5"/>
<line x1="819.8" y1="638" x2="822.3" y2="638" stroke="#17191c" stroke-width="1.5"/>
<line x1="826.2" y1="638" x2="842.3" y2="638" stroke="#17191c" stroke-width="1.5"/>
<line x1="1017.6" y1="638" x2="1033.6" y2="638" stroke="#17191c" stroke-width="1.5"/>
<line x1="1037.5" y1="638" x2="1040" y2="638" stroke="#17191c" stroke-width="1.5"/>
<line x1="1042.5" y1="638" x2="1044.3" y2="638" stroke="#17191c" stroke-width="1.5"/>
<line x1="823.8" y1="578.3" x2="827.8" y2="578.3" stroke="#17191c" stroke-width="1.5"/>
<line x1="1032" y1="578.3" x2="1036" y2="578.3" stroke="#17191c" stroke-width="1.5"/>
<line x1="823.8" y1="615" x2="827.8" y2="615" stroke="#17191c" stroke-width="1.5"/>
<line x1="1032" y1="615" x2="1036" y2="615" stroke="#17191c" stroke-width="1.5"/>
<line x1="818.4" y1="596.4" x2="870" y2="596.4" stroke="#17191c" stroke-width="1.1" stroke-dasharray="15 2.5 2.5 2.5"/>
<line x1="993.7" y1="596.4" x2="1039.7" y2="596.4" stroke="#17191c" stroke-width="1.1" stroke-dasharray="15 2.5 2.5 2.5"/>
<line x1="822.5" y1="661.6" x2="822.5" y2="704.2" stroke="#17191c" stroke-width="1.3"/>
<line x1="1037.3" y1="661.6" x2="1037.3" y2="704.2" stroke="#17191c" stroke-width="1.3"/>
<line x1="822.5" y1="701.2" x2="1037.3" y2="701.2" stroke="#17191c" stroke-width="1.4"/>
<polygon points="822.8,701.2 835.3,698.5 835.3,703.9" fill="#17191c"/>
<polygon points="1037,701.2 1024.5,698.5 1024.5,703.9" fill="#17191c"/>
<text x="930.8" y="696.7" font-size="19.5" text-anchor="middle">af</text>
<text x="810" y="416" font-size="19.5" text-anchor="start">(1)</text>
<line x1="832.3" y1="404.7" x2="852.5" y2="390.2" stroke="#17191c" stroke-width="1.1"/>
<text x="865" y="688.4" font-size="19.5" text-anchor="start">(2)</text>
<line x1="927" y1="621.7" x2="887.1" y2="668.5" stroke="#17191c" stroke-width="1.1"/>
<text x="783.3" y="267.6" font-size="19.5" text-anchor="start">(3)</text>
<line x1="807.6" y1="254.6" x2="828.7" y2="239.2" stroke="#17191c" stroke-width="1.1"/>
<text x="956.2" y="668.2" font-size="9.6" text-anchor="start" fill="#3a3a3a" textLength="50.6" lengthAdjust="spacingAndGlyphs">3.93.011/1</text>
</g>
<g id="d3">
<rect x="356.3" y="810" width="7.7" height="41.9" fill="#a9def8" stroke="#17191c" stroke-width="1.5"/>
<rect x="527" y="810" width="7.8" height="41.9" fill="#a9def8" stroke="#17191c" stroke-width="1.5"/>
<path transform="translate(445.5 831.25) scale(1 1)" d="M0 -91.25 H-38.2 Q-39.7 -91.25 -39.7 -89.75 V-79.2 A5.45 5.45 0 0 1 -50.6 -79.2 V-81.7 C-50.6 -85.2 -52.5 -86 -54.7 -85.9 C-56.5 -85.8 -57.5 -85.2 -59 -84 L-64.5 -79.6 C-66.5 -78 -67.4 -76.7 -67.4 -74.2 V0 H0 Z" fill="#a9def8"/>
<path transform="translate(445.5 831.25) scale(1 -1)" d="M0 -91.25 H-38.2 Q-39.7 -91.25 -39.7 -89.75 V-79.2 A5.45 5.45 0 0 1 -50.6 -79.2 V-81.7 C-50.6 -85.2 -52.5 -86 -54.7 -85.9 C-56.5 -85.8 -57.5 -85.2 -59 -84 L-64.5 -79.6 C-66.5 -78 -67.4 -76.7 -67.4 -74.2 V0 H0 Z" fill="#a9def8"/>
<path transform="translate(445.5 831.25) scale(-1 1)" d="M0 -91.25 H-38.2 Q-39.7 -91.25 -39.7 -89.75 V-79.2 A5.45 5.45 0 0 1 -50.6 -79.2 V-81.7 C-50.6 -85.2 -52.5 -86 -54.7 -85.9 C-56.5 -85.8 -57.5 -85.2 -59 -84 L-64.5 -79.6 C-66.5 -78 -67.4 -76.7 -67.4 -74.2 V0 H0 Z" fill="#a9def8"/>
<path transform="translate(445.5 831.25) scale(-1 -1)" d="M0 -91.25 H-38.2 Q-39.7 -91.25 -39.7 -89.75 V-79.2 A5.45 5.45 0 0 1 -50.6 -79.2 V-81.7 C-50.6 -85.2 -52.5 -86 -54.7 -85.9 C-56.5 -85.8 -57.5 -85.2 -59 -84 L-64.5 -79.6 C-66.5 -78 -67.4 -76.7 -67.4 -74.2 V0 H0 Z" fill="#a9def8"/>
<path transform="translate(445.5 831.25) scale(1 1)" d="M0 -91.25 H-38.2 Q-39.7 -91.25 -39.7 -89.75 V-79.2 A5.45 5.45 0 0 1 -50.6 -79.2 V-81.7 C-50.6 -85.2 -52.5 -86 -54.7 -85.9 C-56.5 -85.8 -57.5 -85.2 -59 -84 L-64.5 -79.6 C-66.5 -78 -67.4 -76.7 -67.4 -74.2 V0" fill="none" stroke="#17191c" stroke-width="1.6" stroke-linejoin="round" vector-effect="non-scaling-stroke"/>
<path transform="translate(445.5 831.25) scale(1 -1)" d="M0 -91.25 H-38.2 Q-39.7 -91.25 -39.7 -89.75 V-79.2 A5.45 5.45 0 0 1 -50.6 -79.2 V-81.7 C-50.6 -85.2 -52.5 -86 -54.7 -85.9 C-56.5 -85.8 -57.5 -85.2 -59 -84 L-64.5 -79.6 C-66.5 -78 -67.4 -76.7 -67.4 -74.2 V0" fill="none" stroke="#17191c" stroke-width="1.6" stroke-linejoin="round" vector-effect="non-scaling-stroke"/>
<path transform="translate(445.5 831.25) scale(-1 1)" d="M0 -91.25 H-38.2 Q-39.7 -91.25 -39.7 -89.75 V-79.2 A5.45 5.45 0 0 1 -50.6 -79.2 V-81.7 C-50.6 -85.2 -52.5 -86 -54.7 -85.9 C-56.5 -85.8 -57.5 -85.2 -59 -84 L-64.5 -79.6 C-66.5 -78 -67.4 -76.7 -67.4 -74.2 V0" fill="none" stroke="#17191c" stroke-width="1.6" stroke-linejoin="round" vector-effect="non-scaling-stroke"/>
<path transform="translate(445.5 831.25) scale(-1 -1)" d="M0 -91.25 H-38.2 Q-39.7 -91.25 -39.7 -89.75 V-79.2 A5.45 5.45 0 0 1 -50.6 -79.2 V-81.7 C-50.6 -85.2 -52.5 -86 -54.7 -85.9 C-56.5 -85.8 -57.5 -85.2 -59 -84 L-64.5 -79.6 C-66.5 -78 -67.4 -76.7 -67.4 -74.2 V0" fill="none" stroke="#17191c" stroke-width="1.6" stroke-linejoin="round" vector-effect="non-scaling-stroke"/>
<path d="M382 756.6 H385.1 V753 L390.6 759 L385.1 765 V761.4 H382 L383.5 759 Z" fill="#a9def8" stroke="#17191c" stroke-width="1.15" stroke-linejoin="round" />
<path d="M501.3 756.6 H504.4 V753 L509.9 759 L504.4 765 V761.4 H501.3 L502.8 759 Z" fill="#a9def8" stroke="#17191c" stroke-width="1.15" stroke-linejoin="round" />
<path d="M382 901 H385.1 V897.4 L390.6 903.4 L385.1 909.4 V905.8 H382 L383.5 903.4 Z" fill="#a9def8" stroke="#17191c" stroke-width="1.15" stroke-linejoin="round" />
<path d="M501.3 901 H504.4 V897.4 L509.9 903.4 L504.4 909.4 V905.8 H501.3 L502.8 903.4 Z" fill="#a9def8" stroke="#17191c" stroke-width="1.15" stroke-linejoin="round" />
<ellipse cx="446" cy="831.2" rx="84.7" ry="81.3" fill="#a9def8" stroke="#17191c" stroke-width="1.6"/>
<ellipse cx="445.7" cy="831" rx="65" ry="61.4" fill="none" stroke="#17191c" stroke-width="1.5"/>
<ellipse cx="445.7" cy="831" rx="58.3" ry="55" fill="none" stroke="#17191c" stroke-width="1.5"/>
<ellipse cx="445.7" cy="831" rx="31.8" ry="30" fill="none" stroke="#17191c" stroke-width="1.5"/>
<ellipse cx="445.7" cy="831" rx="17.3" ry="16.3" fill="none" stroke="#17191c" stroke-width="1.5"/>
<ellipse cx="445.7" cy="831" rx="10" ry="9.4" fill="none" stroke="#17191c" stroke-width="1.3"/>
<ellipse cx="445.7" cy="831" rx="6.2" ry="5.7" fill="none" stroke="#17191c" stroke-width="1.3"/>
<path d="M441.9 821.6 V818.2 H449.4 V821.6" fill="none" stroke="#17191c" stroke-width="1.4" stroke-linejoin="round" />
<ellipse cx="394.7" cy="782.8" rx="4.8" ry="4.6" fill="none" stroke="#17191c" stroke-width="1.35"/>
<line x1="388.16" y1="776.62" x2="398.33" y2="786.23" stroke="#17191c" stroke-width="1.0"/>
<line x1="398.82" y1="778.44" x2="404.32" y2="772.63" stroke="#17191c" stroke-width="1.0"/>
<line x1="390.58" y1="787.16" x2="385.08" y2="792.97" stroke="#17191c" stroke-width="1.0" stroke-dasharray="5 2.5 3"/>
<ellipse cx="496.5" cy="782.8" rx="4.8" ry="4.6" fill="none" stroke="#17191c" stroke-width="1.35"/>
<line x1="503.03" y1="776.61" x2="492.87" y2="786.24" stroke="#17191c" stroke-width="1.0"/>
<line x1="500.63" y1="787.15" x2="506.14" y2="792.96" stroke="#17191c" stroke-width="1.0"/>
<line x1="492.37" y1="778.45" x2="486.86" y2="772.64" stroke="#17191c" stroke-width="1.0" stroke-dasharray="5 2.5 3"/>
<ellipse cx="394.7" cy="879.6" rx="4.8" ry="4.6" fill="none" stroke="#17191c" stroke-width="1.35"/>
<line x1="388.18" y1="885.81" x2="398.32" y2="876.15" stroke="#17191c" stroke-width="1.0"/>
<line x1="390.56" y1="875.26" x2="385.04" y2="869.46" stroke="#17191c" stroke-width="1.0"/>
<line x1="398.84" y1="883.94" x2="404.36" y2="889.74" stroke="#17191c" stroke-width="1.0" stroke-dasharray="5 2.5 3"/>
<ellipse cx="496.5" cy="879.6" rx="4.8" ry="4.6" fill="none" stroke="#17191c" stroke-width="1.35"/>
<line x1="503" y1="885.82" x2="492.89" y2="876.14" stroke="#17191c" stroke-width="1.0"/>
<line x1="492.35" y1="883.94" x2="486.82" y2="889.72" stroke="#17191c" stroke-width="1.0"/>
<line x1="500.65" y1="875.26" x2="506.18" y2="869.48" stroke="#17191c" stroke-width="1.0" stroke-dasharray="5 2.5 3"/>
<line x1="353" y1="831" x2="537.5" y2="831" stroke="#17191c" stroke-width="1.0" stroke-dasharray="11 2.5 2.5 2.5"/>
<line x1="445.6" y1="733" x2="445.6" y2="930" stroke="#17191c" stroke-width="1.0" stroke-dasharray="11 2.5 2.5 2.5"/>
<line x1="400.5" y1="743.5" x2="400.5" y2="763" stroke="#17191c" stroke-width="1.0"/>
<line x1="400.5" y1="903" x2="400.5" y2="990" stroke="#17191c" stroke-width="1.0" stroke-dasharray="11 2.5 2.5 2.5"/>
<line x1="491.3" y1="743.5" x2="491.3" y2="763" stroke="#17191c" stroke-width="1.0"/>
<line x1="491.3" y1="903" x2="491.3" y2="990" stroke="#17191c" stroke-width="1.0" stroke-dasharray="11 2.5 2.5 2.5"/>
<line x1="491" y1="739.8" x2="612" y2="739.8" stroke="#17191c" stroke-width="1.5"/>
<line x1="491" y1="922.5" x2="612" y2="922.5" stroke="#17191c" stroke-width="1.5"/>
<line x1="608.5" y1="739.8" x2="608.5" y2="922.5" stroke="#17191c" stroke-width="1.4"/>
<polygon points="608.5,740.1 605.8,752.6 611.2,752.6" fill="#17191c"/>
<polygon points="608.5,922.2 605.8,909.7 611.2,909.7" fill="#17191c"/>
<text x="611" y="835.9" font-size="19.5" text-anchor="start">n1</text>
<line x1="388" y1="752.4" x2="410.6" y2="752.4" stroke="#17191c" stroke-width="1.0" stroke-dasharray="6 2.5 3 2.5 9"/>
<line x1="480" y1="752.6" x2="570" y2="752.6" stroke="#17191c" stroke-width="1.0" stroke-dasharray="11 2.5 2.5 2.5"/>
<line x1="480" y1="910.2" x2="570" y2="910.2" stroke="#17191c" stroke-width="1.0" stroke-dasharray="11 2.5 2.5 2.5"/>
<line x1="388" y1="910.2" x2="410.6" y2="910.2" stroke="#17191c" stroke-width="1.0" stroke-dasharray="6 2.5 3 2.5 9"/>
<line x1="565.3" y1="752.6" x2="565.3" y2="910.2" stroke="#17191c" stroke-width="1.4"/>
<polygon points="565.3,752.9 562.6,765.4 568,765.4" fill="#17191c"/>
<polygon points="565.3,909.9 562.6,897.4 568,897.4" fill="#17191c"/>
<text x="568.3" y="835.9" font-size="19.5" text-anchor="start">n2</text>
<line x1="485.4" y1="927" x2="485.4" y2="957.4" stroke="#17191c" stroke-width="1.3"/>
<line x1="496.6" y1="927" x2="496.6" y2="957.4" stroke="#17191c" stroke-width="1.3"/>
<line x1="441.5" y1="954.7" x2="485.4" y2="954.7" stroke="#17191c" stroke-width="1.4"/>
<line x1="496.6" y1="954.7" x2="515.8" y2="954.7" stroke="#17191c" stroke-width="1.4"/>
<polygon points="485.2,954.7 474.2,952 474.2,957.4" fill="#17191c"/>
<polygon points="496.8,954.7 507.8,952 507.8,957.4" fill="#17191c"/>
<text x="455.5" y="950.6" font-size="19.5" text-anchor="middle">s</text>
<line x1="400.6" y1="987.3" x2="491.5" y2="987.3" stroke="#17191c" stroke-width="1.4"/>
<polygon points="400.9,987.3 413.4,984.6 413.4,990" fill="#17191c"/>
<polygon points="491.2,987.3 478.7,984.6 478.7,990" fill="#17191c"/>
<text x="453" y="982.8" font-size="19.5" text-anchor="middle">m2</text>
<line x1="378.5" y1="914.6" x2="378.5" y2="1022.6" stroke="#17191c" stroke-width="1.5"/>
<line x1="513.5" y1="914.6" x2="513.5" y2="1022.6" stroke="#17191c" stroke-width="1.5"/>
<line x1="378.5" y1="1019.3" x2="513.5" y2="1019.3" stroke="#17191c" stroke-width="1.4"/>
<polygon points="378.8,1019.3 391.3,1016.6 391.3,1022" fill="#17191c"/>
<polygon points="513.2,1019.3 500.7,1016.6 500.7,1022" fill="#17191c"/>
<text x="451.3" y="1014.8" font-size="19.5" text-anchor="middle">m1</text>
</g>
<g id="d4">
<path d="M822.3 773.5 H832.9 Q836.4 773.5 836.4 777 V883.7 Q836.4 887.2 832.9 887.2 H822.3 Z" fill="#a9def8" stroke="#17191c" stroke-width="1.8" stroke-linejoin="round" />
<path d="M1037.1 773.5 H1026.5 Q1023 773.5 1023 777 V883.7 Q1023 887.2 1026.5 887.2 H1037.1 Z" fill="#a9def8" stroke="#17191c" stroke-width="1.8" stroke-linejoin="round" />
<rect x="1010" y="809.3" width="8.8" height="41.9" fill="#a9def8" stroke="#17191c" stroke-width="1.5"/>
<rect x="1018.8" y="811.6" width="4.4" height="36.4" fill="#a9def8" stroke="#17191c" stroke-width="1.3"/>
<path transform="translate(929.8 830.4) scale(1.01 1)" d="M0 -91.25 H-38.2 Q-39.7 -91.25 -39.7 -89.75 V-79.2 A5.45 5.45 0 0 1 -50.6 -79.2 V-81.7 C-50.6 -85.2 -52.5 -86 -54.7 -85.9 C-56.5 -85.8 -57.5 -85.2 -59 -84 L-64.5 -79.6 C-66.5 -78 -67.4 -76.7 -67.4 -74.2 V0 H0 Z" fill="#a9def8"/>
<path transform="translate(929.8 830.4) scale(1.01 -1)" d="M0 -91.25 H-38.2 Q-39.7 -91.25 -39.7 -89.75 V-79.2 A5.45 5.45 0 0 1 -50.6 -79.2 V-81.7 C-50.6 -85.2 -52.5 -86 -54.7 -85.9 C-56.5 -85.8 -57.5 -85.2 -59 -84 L-64.5 -79.6 C-66.5 -78 -67.4 -76.7 -67.4 -74.2 V0 H0 Z" fill="#a9def8"/>
<path transform="translate(929.8 830.4) scale(-1.01 1)" d="M0 -91.25 H-38.2 Q-39.7 -91.25 -39.7 -89.75 V-79.2 A5.45 5.45 0 0 1 -50.6 -79.2 V-81.7 C-50.6 -85.2 -52.5 -86 -54.7 -85.9 C-56.5 -85.8 -57.5 -85.2 -59 -84 L-64.5 -79.6 C-66.5 -78 -67.4 -76.7 -67.4 -74.2 V0 H0 Z" fill="#a9def8"/>
<path transform="translate(929.8 830.4) scale(-1.01 -1)" d="M0 -91.25 H-38.2 Q-39.7 -91.25 -39.7 -89.75 V-79.2 A5.45 5.45 0 0 1 -50.6 -79.2 V-81.7 C-50.6 -85.2 -52.5 -86 -54.7 -85.9 C-56.5 -85.8 -57.5 -85.2 -59 -84 L-64.5 -79.6 C-66.5 -78 -67.4 -76.7 -67.4 -74.2 V0 H0 Z" fill="#a9def8"/>
<path transform="translate(929.8 830.4) scale(1.01 1)" d="M0 -91.25 H-38.2 Q-39.7 -91.25 -39.7 -89.75 V-79.2 A5.45 5.45 0 0 1 -50.6 -79.2 V-81.7 C-50.6 -85.2 -52.5 -86 -54.7 -85.9 C-56.5 -85.8 -57.5 -85.2 -59 -84 L-64.5 -79.6 C-66.5 -78 -67.4 -76.7 -67.4 -74.2 V0" fill="none" stroke="#17191c" stroke-width="1.6" stroke-linejoin="round" vector-effect="non-scaling-stroke"/>
<path transform="translate(929.8 830.4) scale(1.01 -1)" d="M0 -91.25 H-38.2 Q-39.7 -91.25 -39.7 -89.75 V-79.2 A5.45 5.45 0 0 1 -50.6 -79.2 V-81.7 C-50.6 -85.2 -52.5 -86 -54.7 -85.9 C-56.5 -85.8 -57.5 -85.2 -59 -84 L-64.5 -79.6 C-66.5 -78 -67.4 -76.7 -67.4 -74.2 V0" fill="none" stroke="#17191c" stroke-width="1.6" stroke-linejoin="round" vector-effect="non-scaling-stroke"/>
<path transform="translate(929.8 830.4) scale(-1.01 1)" d="M0 -91.25 H-38.2 Q-39.7 -91.25 -39.7 -89.75 V-79.2 A5.45 5.45 0 0 1 -50.6 -79.2 V-81.7 C-50.6 -85.2 -52.5 -86 -54.7 -85.9 C-56.5 -85.8 -57.5 -85.2 -59 -84 L-64.5 -79.6 C-66.5 -78 -67.4 -76.7 -67.4 -74.2 V0" fill="none" stroke="#17191c" stroke-width="1.6" stroke-linejoin="round" vector-effect="non-scaling-stroke"/>
<path transform="translate(929.8 830.4) scale(-1.01 -1)" d="M0 -91.25 H-38.2 Q-39.7 -91.25 -39.7 -89.75 V-79.2 A5.45 5.45 0 0 1 -50.6 -79.2 V-81.7 C-50.6 -85.2 -52.5 -86 -54.7 -85.9 C-56.5 -85.8 -57.5 -85.2 -59 -84 L-64.5 -79.6 C-66.5 -78 -67.4 -76.7 -67.4 -74.2 V0" fill="none" stroke="#17191c" stroke-width="1.6" stroke-linejoin="round" vector-effect="non-scaling-stroke"/>
<path d="M865.9 755.4 H869 V751.8 L874.5 757.8 L869 763.8 V760.2 H865.9 L867.4 757.8 Z" fill="#a9def8" stroke="#17191c" stroke-width="1.15" stroke-linejoin="round" />
<path d="M985.3 755.4 H988.4 V751.8 L993.9 757.8 L988.4 763.8 V760.2 H985.3 L986.8 757.8 Z" fill="#a9def8" stroke="#17191c" stroke-width="1.15" stroke-linejoin="round" />
<path d="M865.9 900.8 H869 V897.2 L874.5 903.2 L869 909.2 V905.6 H865.9 L867.4 903.2 Z" fill="#a9def8" stroke="#17191c" stroke-width="1.15" stroke-linejoin="round" />
<path d="M985.3 900.8 H988.4 V897.2 L993.9 903.2 L988.4 909.2 V905.6 H985.3 L986.8 903.2 Z" fill="#a9def8" stroke="#17191c" stroke-width="1.15" stroke-linejoin="round" />
<ellipse cx="929.8" cy="830.5" rx="84.4" ry="80.9" fill="#a9def8" stroke="#17191c" stroke-width="1.6"/>
<rect x="819.9" y="798.2" width="50.1" height="64.2" rx="1.2" fill="#fffbd9" stroke="#17191c" stroke-width="1.9"/>
<ellipse cx="929.3" cy="830.3" rx="77.9" ry="74.9" fill="#fffbd9" stroke="#17191c" stroke-width="1.5"/>
<clipPath id="gc"><ellipse cx="929.9" cy="830.4" rx="55.1" ry="52.800000000000004"/></clipPath>
<ellipse cx="929.9" cy="830.4" rx="56.5" ry="54.2" fill="#f6f1cf" stroke="#17191c" stroke-width="1.5"/>
<g clip-path="url(#gc)">
<line x1="892.7" y1="775" x2="892.7" y2="886" stroke="#8b846c" stroke-width="2.2"/>
<line x1="913.6" y1="775" x2="913.6" y2="886" stroke="#8b846c" stroke-width="2.2"/>
<line x1="945.6" y1="775" x2="945.6" y2="886" stroke="#8b846c" stroke-width="2.2"/>
<line x1="967.4" y1="775" x2="967.4" y2="886" stroke="#8b846c" stroke-width="2.2"/>
<path d="M863 767.45h7.6v8.4h-7.6zM863 779.2h7.6v8.4h-7.6zM863 790.95h7.6v8.4h-7.6zM863 802.7h7.6v8.4h-7.6zM863 814.45h7.6v8.4h-7.6zM863 826.2h7.6v8.4h-7.6zM863 837.95h7.6v8.4h-7.6zM863 849.7h7.6v8.4h-7.6zM863 861.45h7.6v8.4h-7.6zM863 873.2h7.6v8.4h-7.6zM863 884.95h7.6v8.4h-7.6zM873.5 767.45h7.6v8.4h-7.6zM873.5 779.2h7.6v8.4h-7.6zM873.5 790.95h7.6v8.4h-7.6zM873.5 802.7h7.6v8.4h-7.6zM873.5 814.45h7.6v8.4h-7.6zM873.5 826.2h7.6v8.4h-7.6zM873.5 837.95h7.6v8.4h-7.6zM873.5 849.7h7.6v8.4h-7.6zM873.5 861.45h7.6v8.4h-7.6zM873.5 873.2h7.6v8.4h-7.6zM873.5 884.95h7.6v8.4h-7.6zM884 767.45h7.6v8.4h-7.6zM884 779.2h7.6v8.4h-7.6zM884 790.95h7.6v8.4h-7.6zM884 802.7h7.6v8.4h-7.6zM884 814.45h7.6v8.4h-7.6zM884 826.2h7.6v8.4h-7.6zM884 837.95h7.6v8.4h-7.6zM884 849.7h7.6v8.4h-7.6zM884 861.45h7.6v8.4h-7.6zM884 873.2h7.6v8.4h-7.6zM884 884.95h7.6v8.4h-7.6zM894.5 767.45h7.6v8.4h-7.6zM894.5 779.2h7.6v8.4h-7.6zM894.5 790.95h7.6v8.4h-7.6zM894.5 802.7h7.6v8.4h-7.6zM894.5 814.45h7.6v8.4h-7.6zM894.5 826.2h7.6v8.4h-7.6zM894.5 837.95h7.6v8.4h-7.6zM894.5 849.7h7.6v8.4h-7.6zM894.5 861.45h7.6v8.4h-7.6zM894.5 873.2h7.6v8.4h-7.6zM894.5 884.95h7.6v8.4h-7.6zM905 767.45h7.6v8.4h-7.6zM905 779.2h7.6v8.4h-7.6zM905 790.95h7.6v8.4h-7.6zM905 802.7h7.6v8.4h-7.6zM905 814.45h7.6v8.4h-7.6zM905 826.2h7.6v8.4h-7.6zM905 837.95h7.6v8.4h-7.6zM905 849.7h7.6v8.4h-7.6zM905 861.45h7.6v8.4h-7.6zM905 873.2h7.6v8.4h-7.6zM905 884.95h7.6v8.4h-7.6zM915.5 767.45h7.6v8.4h-7.6zM915.5 779.2h7.6v8.4h-7.6zM915.5 790.95h7.6v8.4h-7.6zM915.5 802.7h7.6v8.4h-7.6zM915.5 814.45h7.6v8.4h-7.6zM915.5 826.2h7.6v8.4h-7.6zM915.5 837.95h7.6v8.4h-7.6zM915.5 849.7h7.6v8.4h-7.6zM915.5 861.45h7.6v8.4h-7.6zM915.5 873.2h7.6v8.4h-7.6zM915.5 884.95h7.6v8.4h-7.6zM926.2 767.45h2.6v8.4h-2.6zM930.8 767.45h2.6v8.4h-2.6zM926.2 779.2h2.6v8.4h-2.6zM930.8 779.2h2.6v8.4h-2.6zM926.2 790.95h2.6v8.4h-2.6zM930.8 790.95h2.6v8.4h-2.6zM926.2 802.7h2.6v8.4h-2.6zM930.8 802.7h2.6v8.4h-2.6zM926.2 814.45h2.6v8.4h-2.6zM930.8 814.45h2.6v8.4h-2.6zM926.2 826.2h2.6v8.4h-2.6zM930.8 826.2h2.6v8.4h-2.6zM926.2 837.95h2.6v8.4h-2.6zM930.8 837.95h2.6v8.4h-2.6zM926.2 849.7h2.6v8.4h-2.6zM930.8 849.7h2.6v8.4h-2.6zM926.2 861.45h2.6v8.4h-2.6zM930.8 861.45h2.6v8.4h-2.6zM926.2 873.2h2.6v8.4h-2.6zM930.8 873.2h2.6v8.4h-2.6zM926.2 884.95h2.6v8.4h-2.6zM930.8 884.95h2.6v8.4h-2.6zM936.5 767.45h7.6v8.4h-7.6zM936.5 779.2h7.6v8.4h-7.6zM936.5 790.95h7.6v8.4h-7.6zM936.5 802.7h7.6v8.4h-7.6zM936.5 814.45h7.6v8.4h-7.6zM936.5 826.2h7.6v8.4h-7.6zM936.5 837.95h7.6v8.4h-7.6zM936.5 849.7h7.6v8.4h-7.6zM936.5 861.45h7.6v8.4h-7.6zM936.5 873.2h7.6v8.4h-7.6zM936.5 884.95h7.6v8.4h-7.6zM947 767.45h7.6v8.4h-7.6zM947 779.2h7.6v8.4h-7.6zM947 790.95h7.6v8.4h-7.6zM947 802.7h7.6v8.4h-7.6zM947 814.45h7.6v8.4h-7.6zM947 826.2h7.6v8.4h-7.6zM947 837.95h7.6v8.4h-7.6zM947 849.7h7.6v8.4h-7.6zM947 861.45h7.6v8.4h-7.6zM947 873.2h7.6v8.4h-7.6zM947 884.95h7.6v8.4h-7.6zM957.5 767.45h7.6v8.4h-7.6zM957.5 779.2h7.6v8.4h-7.6zM957.5 790.95h7.6v8.4h-7.6zM957.5 802.7h7.6v8.4h-7.6zM957.5 814.45h7.6v8.4h-7.6zM957.5 826.2h7.6v8.4h-7.6zM957.5 837.95h7.6v8.4h-7.6zM957.5 849.7h7.6v8.4h-7.6zM957.5 861.45h7.6v8.4h-7.6zM957.5 873.2h7.6v8.4h-7.6zM957.5 884.95h7.6v8.4h-7.6zM968 767.45h7.6v8.4h-7.6zM968 779.2h7.6v8.4h-7.6zM968 790.95h7.6v8.4h-7.6zM968 802.7h7.6v8.4h-7.6zM968 814.45h7.6v8.4h-7.6zM968 826.2h7.6v8.4h-7.6zM968 837.95h7.6v8.4h-7.6zM968 849.7h7.6v8.4h-7.6zM968 861.45h7.6v8.4h-7.6zM968 873.2h7.6v8.4h-7.6zM968 884.95h7.6v8.4h-7.6zM978.5 767.45h7.6v8.4h-7.6zM978.5 779.2h7.6v8.4h-7.6zM978.5 790.95h7.6v8.4h-7.6zM978.5 802.7h7.6v8.4h-7.6zM978.5 814.45h7.6v8.4h-7.6zM978.5 826.2h7.6v8.4h-7.6zM978.5 837.95h7.6v8.4h-7.6zM978.5 849.7h7.6v8.4h-7.6zM978.5 861.45h7.6v8.4h-7.6zM978.5 873.2h7.6v8.4h-7.6zM978.5 884.95h7.6v8.4h-7.6zM989 767.45h7.6v8.4h-7.6zM989 779.2h7.6v8.4h-7.6zM989 790.95h7.6v8.4h-7.6zM989 802.7h7.6v8.4h-7.6zM989 814.45h7.6v8.4h-7.6zM989 826.2h7.6v8.4h-7.6zM989 837.95h7.6v8.4h-7.6zM989 849.7h7.6v8.4h-7.6zM989 861.45h7.6v8.4h-7.6zM989 873.2h7.6v8.4h-7.6zM989 884.95h7.6v8.4h-7.6z" fill="#fffbd9" stroke="#1f1c12" stroke-width="1.35"/>
</g>
<ellipse cx="929.8" cy="830.3" rx="3.5" ry="3.3" fill="#fffbd9" stroke="#17191c" stroke-width="1.1"/>
<path d="M899 774 Q914 767.2 930 766.7 Q940 766.6 948 768" fill="none" stroke="#17191c" stroke-width="1.3" stroke-linejoin="round" />
<polygon points="947.8,765 962,774.8 945,772.3" fill="#17191c"/>
<line x1="816.7" y1="830.2" x2="1041.8" y2="830.2" stroke="#17191c" stroke-width="1.0" stroke-dasharray="12 2.5 2.5 2.5"/>
<line x1="929.7" y1="736.7" x2="929.7" y2="930" stroke="#17191c" stroke-width="1.0" stroke-dasharray="12 2.5 2.5 2.5"/>
<line x1="884.3" y1="736.5" x2="884.3" y2="763" stroke="#55585c" stroke-width="1.0"/>
<line x1="884.3" y1="902.5" x2="884.3" y2="928" stroke="#55585c" stroke-width="1.0"/>
<line x1="975" y1="736.5" x2="975" y2="763" stroke="#55585c" stroke-width="1.0"/>
<line x1="975" y1="902.5" x2="975" y2="928" stroke="#55585c" stroke-width="1.0"/>
<line x1="876" y1="751.5" x2="897" y2="751.5" stroke="#17191c" stroke-width="1.0" stroke-dasharray="8 2 2 2"/>
<line x1="963" y1="751.5" x2="985" y2="751.5" stroke="#17191c" stroke-width="1.0" stroke-dasharray="8 2 2 2"/>
<line x1="876" y1="907.5" x2="897" y2="907.5" stroke="#17191c" stroke-width="1.0" stroke-dasharray="8 2 2 2"/>
<line x1="963" y1="907.5" x2="985" y2="907.5" stroke="#17191c" stroke-width="1.0" stroke-dasharray="8 2 2 2"/>
<line x1="814.5" y1="788.8" x2="817" y2="788.8" stroke="#17191c" stroke-width="1.4"/>
<line x1="820" y1="788.8" x2="822.5" y2="788.8" stroke="#17191c" stroke-width="1.4"/>
<line x1="826.5" y1="788.8" x2="841.5" y2="788.8" stroke="#17191c" stroke-width="1.4"/>
<line x1="1017.8" y1="788.8" x2="1033.5" y2="788.8" stroke="#17191c" stroke-width="1.4"/>
<line x1="1037" y1="788.8" x2="1039.5" y2="788.8" stroke="#17191c" stroke-width="1.4"/>
<line x1="1042.5" y1="788.8" x2="1045.3" y2="788.8" stroke="#17191c" stroke-width="1.4"/>
<line x1="814.5" y1="871.8" x2="817" y2="871.8" stroke="#17191c" stroke-width="1.4"/>
<line x1="820" y1="871.8" x2="822.5" y2="871.8" stroke="#17191c" stroke-width="1.4"/>
<line x1="826.5" y1="871.8" x2="841.5" y2="871.8" stroke="#17191c" stroke-width="1.4"/>
<line x1="1017.8" y1="871.8" x2="1033.5" y2="871.8" stroke="#17191c" stroke-width="1.4"/>
<line x1="1037" y1="871.8" x2="1039.5" y2="871.8" stroke="#17191c" stroke-width="1.4"/>
<line x1="1042.5" y1="871.8" x2="1045.3" y2="871.8" stroke="#17191c" stroke-width="1.4"/>
</g>
</svg>
<div class="tbl">
<div class="bg b" style="left:7px;width:183.6px;top:1041.3px;height:923.5px"></div>
<div class="bg c" style="left:190.6px;width:230px;top:1041.3px;height:923.5px"></div>
<div class="bg b" style="left:420.6px;width:400.6px;top:1041.3px;height:923.5px"></div>
<div class="bg c" style="left:821.2px;width:265.05px;top:1041.3px;height:923.5px"></div>
<div class="bg b" style="left:1086.25px;width:403.35px;top:1041.3px;height:923.5px"></div>
<div class="bg c" style="left:1489.6px;width:87.9px;top:1041.3px;height:923.5px"></div>
<div class="bg b" style="left:692.6px;width:708.65px;top:1041.3px;height:80.9px"></div>
<svg class="grid" width="1600" height="2001" viewBox="0 0 1600 2001" fill="#1b1c1f"><rect x="5.90" y="1040" width="249.60" height="2.8"/><rect x="1192.3" y="1040" width="386.30" height="2.8"/><rect x="255.5" y="1041.3" width="936.80" height="1.5" fill="#3b3a36"/><rect x="5.90" y="1963.55" width="1572.70" height="2.5"/><rect x="7.00" y="1189.55" width="1570.50" height="2.5"/><rect x="7.00" y="1457.10" width="1570.50" height="2.6"/><rect x="7.00" y="1698.00" width="1570.50" height="2.6"/><rect x="692.60" y="1120.90" width="708.65" height="2.6"/><rect x="5.70" y="1041.30" width="2.6" height="923.50"/><rect x="189.30" y="1041.30" width="2.6" height="923.50"/><rect x="253.70" y="1164.50" width="2.6" height="800.30"/><rect x="315.10" y="1164.50" width="2.6" height="800.30"/><rect x="419.30" y="1041.30" width="2.6" height="923.50"/><rect x="490.80" y="1164.50" width="2.6" height="800.30"/><rect x="562.20" y="1041.30" width="2.6" height="923.50"/><rect x="627.10" y="1164.50" width="2.6" height="800.30"/><rect x="691.30" y="1041.30" width="2.6" height="923.50"/><rect x="755.20" y="1122.20" width="2.6" height="842.60"/><rect x="819.90" y="1122.20" width="2.6" height="842.60"/><rect x="884.30" y="1122.20" width="2.6" height="842.60"/><rect x="948.70" y="1122.20" width="2.6" height="842.60"/><rect x="1013.45" y="1122.20" width="2.6" height="842.60"/><rect x="1084.95" y="1122.20" width="2.6" height="842.60"/><rect x="1142.45" y="1122.20" width="2.6" height="842.60"/><rect x="1206.60" y="1122.20" width="2.6" height="842.60"/><rect x="1270.95" y="1122.20" width="2.6" height="842.60"/><rect x="1335.30" y="1122.20" width="2.6" height="842.60"/><rect x="1399.95" y="1041.30" width="2.6" height="923.50"/><rect x="1488.30" y="1041.30" width="2.6" height="923.50"/><rect x="1576.20" y="1041.30" width="2.6" height="923.50"/></svg>
<div class="hl" style="top:1073.50px;font-size:20.8px;left:28.3px;">Тип насоса</div>
<div class="hl" style="top:1073.50px;font-size:20.5px;left:199.5px;">Мощность</div>
<div class="hl" style="top:1099.00px;font-size:20.5px;letter-spacing:0.6px;left:200px;">двигателя</div>
<div class="hl" style="top:1084.00px;font-size:20.5px;left:322px;transform:scaleX(0.885);transform-origin:0 50%;">Двигатель</div>
<div class="hl" style="top:1052.20px;font-size:22.3px;left:341px;width:300px;text-align:center;">MXV (G)</div>
<div class="hl" style="top:1074.20px;font-size:20.5px;left:338.4px;width:300px;text-align:center;">резьбовые</div>
<div class="hl" style="top:1098.00px;font-size:20.5px;left:338.2px;width:300px;text-align:center;transform:scaleX(0.985);">раструбы</div>
<div class="hl" style="top:1052.20px;font-size:22.3px;left:480.3px;width:300px;text-align:center;">MXV (F)</div>
<div class="hl" style="top:1074.20px;font-size:20.5px;left:475.5px;width:300px;text-align:center;transform:scaleX(0.95);">фланцевые</div>
<div class="hl" style="top:1098.00px;font-size:20.5px;left:475.3px;width:300px;text-align:center;transform:scaleX(0.985);">раструбы</div>
<div class="hl" style="top:1076.00px;font-size:22.5px;left:899px;width:300px;text-align:center;">mm</div>
<div class="hl" style="top:1164.80px;font-size:21.5px;left:72px;width:300px;text-align:center;">kW</div>
<div class="hl" style="top:1164.80px;font-size:21.5px;left:136px;width:300px;text-align:center;">HP</div>
<div class="hl" style="top:1153.50px;font-size:21.5px;left:305px;width:300px;text-align:center;">G</div>
<div class="hl" style="top:1173.60px;font-size:15.5px;letter-spacing:0.3px;left:307.5px;width:300px;text-align:center;">ISO 228</div>
<div class="hl" style="top:1164.80px;font-size:21.5px;left:376.8px;width:300px;text-align:center;">af</div>
<div class="hl" style="top:1164.80px;font-size:21.5px;left:445.95px;width:300px;text-align:center;">DN</div>
<div class="hl" style="top:1164.80px;font-size:21.5px;left:510.5px;width:300px;text-align:center;">L2</div>
<div class="hl" style="top:1164.80px;font-size:21.5px;left:574.55px;width:300px;text-align:center;">h1</div>
<div class="hl" style="top:1164.80px;font-size:21.5px;left:638.85px;width:300px;text-align:center;">f</div>
<div class="hl" style="top:1164.80px;font-size:21.5px;left:703.4px;width:300px;text-align:center;">M</div>
<div class="hl" style="top:1164.80px;font-size:21.5px;left:767.8px;width:300px;text-align:center;">fM</div>
<div class="hl" style="top:1164.80px;font-size:21.5px;left:832.375px;width:300px;text-align:center;">P</div>
<div class="hl" style="top:1164.80px;font-size:21.5px;left:900.5px;width:300px;text-align:center;">AD</div>
<div class="hl" style="top:1164.80px;font-size:21.5px;left:965px;width:300px;text-align:center;">n1</div>
<div class="hl" style="top:1164.80px;font-size:21.5px;left:1025.83px;width:300px;text-align:center;">n2</div>
<div class="hl" style="top:1164.80px;font-size:21.5px;left:1090.08px;width:300px;text-align:center;">m1</div>
<div class="hl" style="top:1164.80px;font-size:21.5px;left:1154.42px;width:300px;text-align:center;">m2</div>
<div class="hl" style="top:1164.80px;font-size:21.5px;left:1218.92px;width:300px;text-align:center;">s</div>
<div class="hl" style="top:1142.50px;font-size:18px;left:704.4px;width:300px;text-align:center;">(5)</div>
<div class="hl" style="top:1142.50px;font-size:18px;left:900.5px;width:300px;text-align:center;">(5)</div>
<div class="hl" style="top:1047.70px;font-size:19px;left:1291px;width:300px;text-align:center;transform:scaleX(0.69);">насоса без</div>
<div class="hl" style="top:1073.40px;font-size:19px;left:1291px;width:300px;text-align:center;transform:scaleX(0.7);">двигателя</div>
<div class="hl" style="top:1112.30px;font-size:19.5px;left:1293.5px;width:300px;text-align:center;transform:scaleX(0.915);">MXV (G)</div>
<div class="hl" style="top:1140.30px;font-size:18px;left:1293px;width:300px;text-align:center;">(4)</div>
<div class="hl" style="top:1162.00px;font-size:21.5px;left:1306.5px;width:300px;text-align:center;">kg<small>(6)</small></div>
<div class="hl" style="top:1047.70px;font-size:19px;left:1380px;width:300px;text-align:center;transform:scaleX(0.7);">насоса с</div>
<div class="hl" style="top:1073.40px;font-size:19px;left:1380px;width:300px;text-align:center;transform:scaleX(0.7);">двигателем</div>
<div class="hl" style="top:1140.50px;font-size:18px;left:1380px;width:300px;text-align:center;">(5)</div>
<div class="hl" style="top:1162.00px;font-size:21.5px;left:1392.5px;width:300px;text-align:center;">kg<small>(6)</small></div>
<table class="dt g1" style="top:1198.00px">
<colgroup><col style="width:183.6px"><col style="width:64.4px"><col style="width:61.4px"><col style="width:104.2px"><col style="width:71.5px"><col style="width:71.4px"><col style="width:64.9px"><col style="width:64.2px"><col style="width:63.9px"><col style="width:64.7px"><col style="width:64.4px"><col style="width:64.4px"><col style="width:64.75px"><col style="width:71.5px"><col style="width:57.5px"><col style="width:64.15px"><col style="width:64.35px"><col style="width:64.35px"><col style="width:64.65px"><col style="width:88.35px"><col style="width:87.9px"></colgroup>
<tbody>
<tr><td class="type">MXV 25-204/C</td><td>0,75</td><td>1</td><td class="mot"><span>M80 V1</span></td><td class="g">G1</td><td>215</td><td>25</td><td>250</td><td>75</td><td>372</td><td>255</td><td>627</td><td>200</td><td class="AD">127,5</td><td>210</td><td>180</td><td>150</td><td>100</td><td>12,5</td><td class="kg1">18</td><td class="kg2">30,2</td></tr>
<tr><td class="type">MXV 25-205/C</td><td>0,75</td><td>1</td><td class="mot"><span>M80 V1</span></td><td class="g">G1</td><td>215</td><td>25</td><td>250</td><td>75</td><td>396</td><td>255</td><td>651</td><td>200</td><td class="AD">127,5</td><td>210</td><td>180</td><td>150</td><td>100</td><td>12,5</td><td class="kg1">19</td><td class="kg2">31,2</td></tr>
<tr><td class="type">MXV 25-206/C</td><td>1,1</td><td>1,5</td><td class="mot"><span>M80 V1</span></td><td class="g">G1</td><td>215</td><td>25</td><td>250</td><td>75</td><td>420</td><td>255</td><td>675</td><td>200</td><td class="AD">127,5</td><td>210</td><td>180</td><td>150</td><td>100</td><td>12,5</td><td class="kg1">20</td><td class="kg2">33,3</td></tr>
<tr><td class="type">MXV 25-207/C</td><td>1,1</td><td>1,5</td><td class="mot"><span>M80 V1</span></td><td class="g">G1</td><td>215</td><td>25</td><td>250</td><td>75</td><td>444</td><td>255</td><td>699</td><td>200</td><td class="AD">127,5</td><td>210</td><td>180</td><td>150</td><td>100</td><td>12,5</td><td class="kg1">21</td><td class="kg2">34,3</td></tr>
<tr><td class="type">MXV 25-208/C</td><td>1,5</td><td>2</td><td class="mot"><span>M90 V1</span></td><td class="g">G1</td><td>215</td><td>25</td><td>250</td><td>75</td><td>478</td><td>255</td><td>733</td><td>200</td><td class="AD">127,5</td><td>210</td><td>180</td><td>150</td><td>100</td><td>12,5</td><td class="kg1">22</td><td class="kg2">37,2</td></tr>
<tr><td class="type">MXV 25-210/C</td><td>1,5</td><td>2</td><td class="mot"><span>M90 V1</span></td><td class="g">G1</td><td>215</td><td>25</td><td>250</td><td>75</td><td>526</td><td>255</td><td>781</td><td>200</td><td class="AD">127,5</td><td>210</td><td>180</td><td>150</td><td>100</td><td>12,5</td><td class="kg1">23</td><td class="kg2">38,2</td></tr>
<tr><td class="type">MXV 25-212/C</td><td>2,2</td><td>3</td><td class="mot"><span>M90 V1</span></td><td class="g">G1</td><td>215</td><td>25</td><td>250</td><td>75</td><td>574</td><td>295</td><td>869</td><td>200</td><td class="AD">127,5</td><td>210</td><td>180</td><td>150</td><td>100</td><td>12,5</td><td class="kg1">25</td><td class="kg2">43,1</td></tr>
<tr><td class="type">MXV 25-214/C</td><td>2,2</td><td>3</td><td class="mot"><span>M90 V1</span></td><td class="g">G1</td><td>215</td><td>25</td><td>250</td><td>75</td><td>622</td><td>295</td><td>917</td><td>200</td><td class="AD">127,5</td><td>210</td><td>180</td><td>150</td><td>100</td><td>12,5</td><td class="kg1">26</td><td class="kg2">44,1</td></tr>
<tr><td class="type">MXV 25-216/C</td><td>3</td><td>4</td><td class="mot"><span>M100 V1</span></td><td class="g">G1</td><td>215</td><td>25</td><td>250</td><td>75</td><td>680</td><td>311</td><td>991</td><td>250</td><td class="AD">137,5</td><td>210</td><td>180</td><td>150</td><td>100</td><td>12,5</td><td class="kg1">29</td><td class="kg2">54,6</td></tr>
<tr><td class="type">MXV 25-218/C</td><td>3</td><td>4</td><td class="mot"><span>M100 V1</span></td><td class="g">G1</td><td>215</td><td>25</td><td>250</td><td>75</td><td>728</td><td>311</td><td>1039</td><td>250</td><td class="AD">137,5</td><td>210</td><td>180</td><td>150</td><td>100</td><td>12,5</td><td class="kg1">31</td><td class="kg2">56,6</td></tr>
<tr><td class="type">MXV 25-220/C</td><td>3</td><td>4</td><td class="mot"><span>M100 V1</span></td><td class="g">G1</td><td>215</td><td>25</td><td>250</td><td>75</td><td>776</td><td>311</td><td>1087</td><td>250</td><td class="AD">137,5</td><td>210</td><td>180</td><td>150</td><td>100</td><td>12,5</td><td class="kg1">32</td><td class="kg2">57,6</td></tr>
</tbody></table>
<table class="dt g2" style="top:1466.00px">
<colgroup><col style="width:183.6px"><col style="width:64.4px"><col style="width:61.4px"><col style="width:104.2px"><col style="width:71.5px"><col style="width:71.4px"><col style="width:64.9px"><col style="width:64.2px"><col style="width:63.9px"><col style="width:64.7px"><col style="width:64.4px"><col style="width:64.4px"><col style="width:64.75px"><col style="width:71.5px"><col style="width:57.5px"><col style="width:64.15px"><col style="width:64.35px"><col style="width:64.35px"><col style="width:64.65px"><col style="width:88.35px"><col style="width:87.9px"></colgroup>
<tbody>
<tr><td class="type">MXV 32-404/C</td><td>1,1</td><td>1,5</td><td class="mot"><span>M80 V1</span></td><td class="g">G<i>1</i><small>1/4</small></td><td>215</td><td>32</td><td>250</td><td>75</td><td>372</td><td>255</td><td>627</td><td>200</td><td class="AD">127,5</td><td>210</td><td>180</td><td>150</td><td>100</td><td>12,5</td><td class="kg1">19</td><td class="kg2">31,2</td></tr>
<tr><td class="type">MXV 32-405/C</td><td>1,1</td><td>1,5</td><td class="mot"><span>M80 V1</span></td><td class="g">G<i>1</i><small>1/4</small></td><td>215</td><td>32</td><td>250</td><td>75</td><td>396</td><td>255</td><td>651</td><td>200</td><td class="AD">127,5</td><td>210</td><td>180</td><td>150</td><td>100</td><td>12,5</td><td class="kg1">20</td><td class="kg2">32,2</td></tr>
<tr><td class="type">MXV 32-406/C</td><td>1,5</td><td>2</td><td class="mot"><span>M90 V1</span></td><td class="g">G<i>1</i><small>1/4</small></td><td>215</td><td>32</td><td>250</td><td>75</td><td>430</td><td>255</td><td>685</td><td>200</td><td class="AD">127,5</td><td>210</td><td>180</td><td>150</td><td>100</td><td>12,5</td><td class="kg1">21</td><td class="kg2">36,2</td></tr>
<tr><td class="type">MXV 32-407/C</td><td>1,5</td><td>2</td><td class="mot"><span>M90 V1</span></td><td class="g">G<i>1</i><small>1/4</small></td><td>215</td><td>32</td><td>250</td><td>75</td><td>454</td><td>255</td><td>709</td><td>200</td><td class="AD">127,5</td><td>210</td><td>180</td><td>150</td><td>100</td><td>12,5</td><td class="kg1">22</td><td class="kg2">37,2</td></tr>
<tr><td class="type">MXV 32-408/C</td><td>2,2</td><td>3</td><td class="mot"><span>M90 V1</span></td><td class="g">G<i>1</i><small>1/4</small></td><td>215</td><td>32</td><td>250</td><td>75</td><td>478</td><td>295</td><td>773</td><td>200</td><td class="AD">127,5</td><td>210</td><td>180</td><td>150</td><td>100</td><td>12,5</td><td class="kg1">23</td><td class="kg2">41,1</td></tr>
<tr><td class="type">MXV 32-410/C</td><td>2,2</td><td>3</td><td class="mot"><span>M90 V1</span></td><td class="g">G<i>1</i><small>1/4</small></td><td>215</td><td>32</td><td>250</td><td>75</td><td>526</td><td>295</td><td>821</td><td>200</td><td class="AD">127,5</td><td>210</td><td>180</td><td>150</td><td>100</td><td>12,5</td><td class="kg1">24</td><td class="kg2">42,1</td></tr>
<tr><td class="type">MXV 32-412/C</td><td>3</td><td>4</td><td class="mot"><span>M100 V1</span></td><td class="g">G<i>1</i><small>1/4</small></td><td>215</td><td>32</td><td>250</td><td>75</td><td>584</td><td>311</td><td>895</td><td>250</td><td class="AD">137,5</td><td>210</td><td>180</td><td>150</td><td>100</td><td>12,5</td><td class="kg1">27</td><td class="kg2">52,6</td></tr>
<tr><td class="type">MXV 32-414/C</td><td>3</td><td>4</td><td class="mot"><span>M100 V1</span></td><td class="g">G<i>1</i><small>1/4</small></td><td>215</td><td>32</td><td>250</td><td>75</td><td>632</td><td>311</td><td>943</td><td>250</td><td class="AD">137,5</td><td>210</td><td>180</td><td>150</td><td>100</td><td>12,5</td><td class="kg1">29</td><td class="kg2">54,6</td></tr>
<tr><td class="type">MXV 32-416/C</td><td>4</td><td>5,5</td><td class="mot"><span>M112 V1</span></td><td class="g">G<i>1</i><small>1/4</small></td><td>215</td><td>32</td><td>250</td><td>75</td><td>680</td><td>311</td><td>991</td><td>250</td><td class="AD">137,5</td><td>210</td><td>180</td><td>150</td><td>100</td><td>12,5</td><td class="kg1">30</td><td class="kg2">57,8</td></tr>
<tr><td class="type">MXV 32-418/C</td><td>4</td><td>5,5</td><td class="mot"><span>M112 V1</span></td><td class="g">G<i>1</i><small>1/4</small></td><td>215</td><td>32</td><td>250</td><td>75</td><td>728</td><td>311</td><td>1039</td><td>250</td><td class="AD">137,5</td><td>210</td><td>180</td><td>150</td><td>100</td><td>12,5</td><td class="kg1">31</td><td class="kg2">58,8</td></tr>
</tbody></table>
<table class="dt g3" style="top:1706.00px">
<colgroup><col style="width:183.6px"><col style="width:64.4px"><col style="width:61.4px"><col style="width:104.2px"><col style="width:71.5px"><col style="width:71.4px"><col style="width:64.9px"><col style="width:64.2px"><col style="width:63.9px"><col style="width:64.7px"><col style="width:64.4px"><col style="width:64.4px"><col style="width:64.75px"><col style="width:71.5px"><col style="width:57.5px"><col style="width:64.15px"><col style="width:64.35px"><col style="width:64.35px"><col style="width:64.65px"><col style="width:88.35px"><col style="width:87.9px"></colgroup>
<tbody>
<tr><td class="type">MXV 40-804/C</td><td>1,5</td><td>2</td><td class="mot"><span>M90 V1</span></td><td class="g up">G<i>1</i><small>1/2</small></td><td class="af up">225</td><td class="dn up">40</td><td class="l2 up">280</td><td class="h1 up">80</td><td>411</td><td>255</td><td>666</td><td>200</td><td class="AD">127,5</td><td class="n1 up">246</td><td class="n2 up">215</td><td class="m1 up">190</td><td class="m2 up">130</td><td class="s up">14</td><td class="kg1">21</td><td class="kg2">36,2</td></tr>
<tr><td class="type">MXV 40-805/C</td><td>2,2</td><td>3</td><td class="mot"><span>M90 V1</span></td><td class="g up">G<i>1</i><small>1/2</small></td><td class="af up">225</td><td class="dn up">40</td><td class="l2 up">280</td><td class="h1 up">80</td><td>441</td><td>295</td><td>736</td><td>200</td><td class="AD">127,5</td><td class="n1 up">246</td><td class="n2 up">215</td><td class="m1 up">190</td><td class="m2 up">130</td><td class="s up">14</td><td class="kg1">22</td><td class="kg2">40,1</td></tr>
<tr><td class="type">MXV 40-806/C</td><td>2,2</td><td>3</td><td class="mot"><span>M90 V1</span></td><td class="g up">G<i>1</i><small>1/2</small></td><td class="af up">225</td><td class="dn up">40</td><td class="l2 up">280</td><td class="h1 up">80</td><td>471</td><td>295</td><td>766</td><td>200</td><td class="AD">127,5</td><td class="n1 up">246</td><td class="n2 up">215</td><td class="m1 up">190</td><td class="m2 up">130</td><td class="s up">14</td><td class="kg1">23</td><td class="kg2">41,1</td></tr>
<tr><td class="type">MXV 40-807/C</td><td>3</td><td>4</td><td class="mot"><span>M100 V1</span></td><td class="g up">G<i>1</i><small>1/2</small></td><td class="af up">225</td><td class="dn up">40</td><td class="l2 up">280</td><td class="h1 up">80</td><td>511</td><td>311</td><td>822</td><td>250</td><td class="AD">137,5</td><td class="n1 up">246</td><td class="n2 up">215</td><td class="m1 up">190</td><td class="m2 up">130</td><td class="s up">14</td><td class="kg1">25</td><td class="kg2">50,6</td></tr>
<tr><td class="type">MXV 40-808/C</td><td>3</td><td>4</td><td class="mot"><span>M100 V1</span></td><td class="g up">G<i>1</i><small>1/2</small></td><td class="af up">225</td><td class="dn up">40</td><td class="l2 up">280</td><td class="h1 up">80</td><td>541</td><td>311</td><td>852</td><td>250</td><td class="AD">137,5</td><td class="n1 up">246</td><td class="n2 up">215</td><td class="m1 up">190</td><td class="m2 up">130</td><td class="s up">14</td><td class="kg1">26</td><td class="kg2">51,6</td></tr>
<tr><td class="type">MXV 40-810/C</td><td>4</td><td>5,5</td><td class="mot"><span>M112 V1</span></td><td class="g up">G<i>1</i><small>1/2</small></td><td class="af up">225</td><td class="dn up">40</td><td class="l2 up">280</td><td class="h1 up">80</td><td>601</td><td>311</td><td>912</td><td>250</td><td class="AD">137,5</td><td class="n1 up">246</td><td class="n2 up">215</td><td class="m1 up">190</td><td class="m2 up">130</td><td class="s up">14</td><td class="kg1">28</td><td class="kg2">55,8</td></tr>
<tr><td class="type">MXV 40-811/C</td><td>4</td><td>5,5</td><td class="mot"><span>M112 V1</span></td><td class="g up">G<i>1</i><small>1/2</small></td><td class="af up">225</td><td class="dn up">40</td><td class="l2 up">280</td><td class="h1 up">80</td><td>631</td><td>311</td><td>942</td><td>250</td><td class="AD">137,5</td><td class="n1 up">246</td><td class="n2 up">215</td><td class="m1 up">190</td><td class="m2 up">130</td><td class="s up">14</td><td class="kg1">29</td><td class="kg2">56,8</td></tr>
<tr><td class="type">MXV 40-813/C</td><td>5,5</td><td>7,5</td><td class="mot"><span>M132 V1</span></td><td class="g up">G<i>1</i><small>1/2</small></td><td class="af up">225</td><td class="dn up">40</td><td class="l2 up">280</td><td class="h1 up">80</td><td>711</td><td>339</td><td>1050</td><td>300</td><td class="AD">159,5</td><td class="n1 up">246</td><td class="n2 up">215</td><td class="m1 up">190</td><td class="m2 up">130</td><td class="s up">14</td><td class="kg1">35</td><td class="kg2">77,3</td></tr>
<tr><td class="type">MXV 40-815/C</td><td>5,5</td><td>7,5</td><td class="mot"><span>M132 V1</span></td><td class="g up">G<i>1</i><small>1/2</small></td><td class="af up">225</td><td class="dn up">40</td><td class="l2 up">280</td><td class="h1 up">80</td><td>771</td><td>339</td><td>1110</td><td>300</td><td class="AD">159,5</td><td class="n1 up">246</td><td class="n2 up">215</td><td class="m1 up">190</td><td class="m2 up">130</td><td class="s up">14</td><td class="kg1">36</td><td class="kg2">78,3</td></tr>
<tr><td class="type">MXV 40-817/C</td><td>7,5</td><td>10</td><td class="mot"><span>M132 V1</span></td><td class="g up">G<i>1</i><small>1/2</small></td><td class="af up">225</td><td class="dn up">40</td><td class="l2 up">280</td><td class="h1 up">80</td><td>831</td><td>339</td><td>1170</td><td>300</td><td class="AD">159,5</td><td class="n1 up">246</td><td class="n2 up">215</td><td class="m1 up">190</td><td class="m2 up">130</td><td class="s up">14</td><td class="kg1">38</td><td class="kg2">85,7</td></tr>
<tr><td class="type">MXV 40-819/C</td><td>7,5</td><td>10</td><td class="mot"><span>M132 V1</span></td><td class="g up">G<i>1</i><small>1/2</small></td><td class="af up">225</td><td class="dn up">40</td><td class="l2 up">280</td><td class="h1 up">80</td><td>891</td><td>339</td><td>1230</td><td>300</td><td class="AD">159,5</td><td class="n1 up">246</td><td class="n2 up">215</td><td class="m1 up">190</td><td class="m2 up">130</td><td class="s up">14</td><td class="kg1">39</td><td class="kg2">86,7</td></tr>
</tbody></table>
</div>
<p class="notes"><span style="left:806.3px">(4) MXV (F) = MXV (G) + 1kg</span><span style="left:1111.8px;letter-spacing:0.1px">(5) Со стандартным двигателем</span><span style="left:1439.3px">(6) Вес нетто</span></p>
</div>
</body>
</html>
